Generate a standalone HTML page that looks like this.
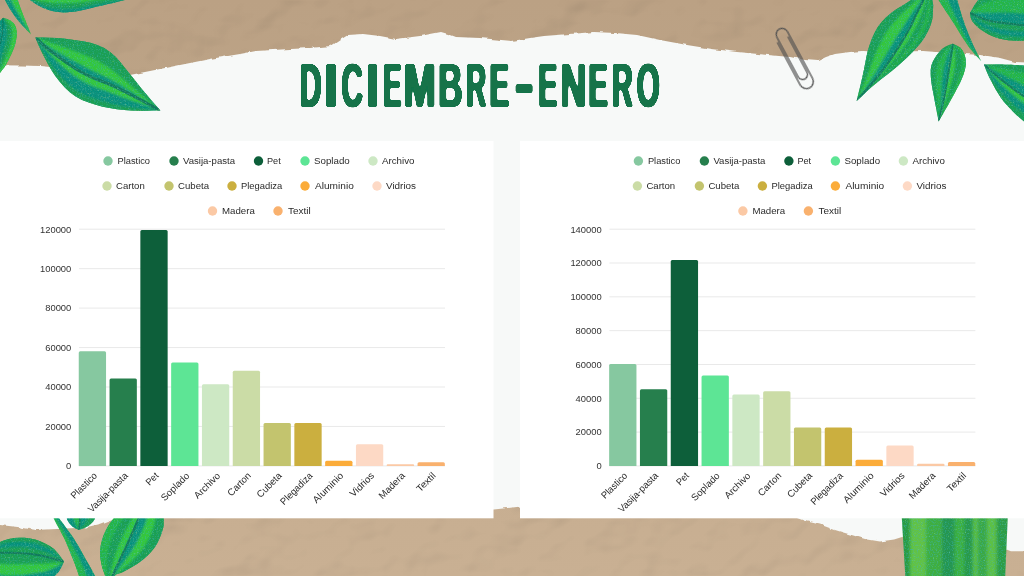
<!DOCTYPE html>
<html lang="es"><head><meta charset="utf-8"><title>Diciembre-Enero</title>
<style>
html,body{margin:0;padding:0;background:#bca388;}
body{width:1024px;height:576px;overflow:hidden;position:relative;}
svg{display:block;position:absolute;left:0;top:0;}
text{font-family:"Liberation Sans","DejaVu Sans",sans-serif;}
.lg{font-size:9.6px;fill:#2b2b2b;}
.ax{font-size:9.4px;fill:#333;}
.ttl{font-family:"Liberation Sans","DejaVu Sans",sans-serif;font-weight:bold;fill:#12734a;}
</style></head><body>
<svg width="1024" height="576" viewBox="0 0 1024 576">
<defs>
<filter id="kraft" x="0" y="0" width="100%" height="100%" color-interpolation-filters="sRGB">
<feTurbulence type="fractalNoise" baseFrequency="0.017 0.021" numOctaves="3" seed="5" result="n"/>
<feDiffuseLighting in="n" surfaceScale="1.3" diffuseConstant="1.155" lighting-color="#ffffff" result="l"><feDistantLight azimuth="235" elevation="60"/></feDiffuseLighting>
<feComposite in="SourceGraphic" in2="l" operator="arithmetic" k1="1" k2="0" k3="0" k4="0"/>
</filter>
<linearGradient id="kg" x1="0" y1="0" x2="0" y2="1"><stop offset="0" stop-color="#bba184"/><stop offset="0.15" stop-color="#bca386"/><stop offset="0.85" stop-color="#c7ae91"/><stop offset="1" stop-color="#c9b093"/></linearGradient>
<filter id="soft2" x="-10%" y="-10%" width="120%" height="120%"><feGaussianBlur stdDeviation="1.6 0.1"/></filter>
<filter id="soft" x="-10%" y="-10%" width="120%" height="120%"><feGaussianBlur stdDeviation="1.1"/></filter>
<filter id="grain" x="0" y="0" width="100%" height="100%">
<feTurbulence type="fractalNoise" baseFrequency="0.75" numOctaves="2" seed="3" result="t"/>
<feColorMatrix in="t" type="matrix" values="0 0 0 0 0.04  0 0 0 0 0.45  0 0 0 0 0.38  1.6 0 0 0 -0.78" result="g"/>
<feComposite in="g" in2="SourceAlpha" operator="in" result="gi"/>
<feColorMatrix in="t" type="matrix" values="0 0 0 0 0.25  0 0 0 0 0.80  0 0 0 0 0.25  0 -1.5 0 0 0.52" result="h"/>
<feComposite in="h" in2="SourceAlpha" operator="in" result="hi"/>
<feMerge><feMergeNode in="SourceGraphic"/><feMergeNode in="gi"/><feMergeNode in="hi"/></feMerge>
</filter>
<filter id="torn" x="-1%" y="-5%" width="102%" height="110%">
<feTurbulence type="fractalNoise" baseFrequency="0.11" numOctaves="2" seed="8" result="t"/>
<feDisplacementMap in="SourceGraphic" in2="t" scale="3.2" xChannelSelector="R" yChannelSelector="G"/>
</filter>
<filter id="fat" x="-2%" y="-10%" width="104%" height="120%"><feMorphology operator="dilate" radius="1.0 0.3" result="d"/><feGaussianBlur in="d" stdDeviation="1.3" result="b"/><feColorMatrix in="b" type="matrix" values="1 0 0 0 0  0 1 0 0 0  0 0 1 0 0  0 0 0 9 -4"/></filter>
</defs>

<rect x="0" y="0" width="1024" height="576" fill="url(#kg)" filter="url(#kraft)"/>
<path d="M-12,65 L20,65.5 L40,66 L60,68 L90,72 L110,75 L130,75 L150,71 L180,65 L210,59 L240,54 L256,51 L290,49 L310,48 L331,46 L340,40 L348,35 L363,34 L380,36 L396,39 L420,36 L441,32 L448,34 L456,37 L480,38 L512,41 L530,38 L544,36 L570,34 L594,32 L615,33 L637,35 L660,40 L687,45 L712,49 L737,52 L768,55 L790,57 L805,60 L818,61 L826,57 L835,54 L850,52 L863,51 L890,52 L923,51 L950,53 L980,55 L1000,58 L1015,62 L1036,63 L1036,551.3 L1011,551.3 L1007.7,550 L990,548 L960,545 L930,541 L902,537 L894,539.4 L880,541.5 L865,539 L850,534.5 L835,530 L820,524.5 L805,521 L797,518 L700,514 L600,510 L521,506.5 L493.8,509.6 L300,514 L112.5,519 L98,524.6 L85,527.5 L56,529 L35,530 L17.6,527 L-12,523.7Z" fill="#f7f9f8" filter="url(#torn)"/>
<g filter="url(#grain)">
<clipPath id="lf1"><path d="M24.0,-4.0 L28.9,-6.9 L33.8,-9.9 L38.7,-12.9 L43.7,-15.7 L48.8,-18.2 L54.2,-20.3 L59.7,-21.9 L65.3,-22.9 L71.0,-23.6 L76.7,-24.0 L82.4,-24.2 L88.1,-24.2 L93.9,-24.0 L99.6,-23.6 L105.3,-22.9 L110.9,-21.7 L116.3,-19.9 L121.4,-17.3 L126.2,-14.3 L130.9,-10.9 L135.4,-7.4 L140.0,-4.0 L140.0,-4.0 L134.6,-2.6 L129.3,-1.2 L123.9,0.2 L118.5,1.5 L113.1,2.9 L107.8,4.1 L102.4,5.4 L97.0,6.6 L91.5,7.9 L86.2,9.2 L80.8,10.5 L75.3,11.5 L69.8,12.1 L64.3,12.4 L58.7,12.1 L53.3,11.2 L47.9,9.8 L42.8,7.8 L37.9,5.2 L33.2,2.2 L28.6,-0.9 L24.0,-4.0Z"/></clipPath>
<path d="M24.0,-4.0 L28.9,-6.9 L33.8,-9.9 L38.7,-12.9 L43.7,-15.7 L48.8,-18.2 L54.2,-20.3 L59.7,-21.9 L65.3,-22.9 L71.0,-23.6 L76.7,-24.0 L82.4,-24.2 L88.1,-24.2 L93.9,-24.0 L99.6,-23.6 L105.3,-22.9 L110.9,-21.7 L116.3,-19.9 L121.4,-17.3 L126.2,-14.3 L130.9,-10.9 L135.4,-7.4 L140.0,-4.0 L140.0,-4.0 L134.6,-2.6 L129.3,-1.2 L123.9,0.2 L118.5,1.5 L113.1,2.9 L107.8,4.1 L102.4,5.4 L97.0,6.6 L91.5,7.9 L86.2,9.2 L80.8,10.5 L75.3,11.5 L69.8,12.1 L64.3,12.4 L58.7,12.1 L53.3,11.2 L47.9,9.8 L42.8,7.8 L37.9,5.2 L33.2,2.2 L28.6,-0.9 L24.0,-4.0Z" fill="#1f9f52"/>
<g clip-path="url(#lf1)"><g filter="url(#soft)">
<path d="M24.0,-4.0 L28.9,-2.5 L33.9,-1.0 L38.8,0.4 L43.9,1.6 L49.1,2.5 L54.5,3.2 L59.8,3.5 L65.2,3.6 L70.6,3.3 L76.0,2.9 L81.4,2.4 L86.7,1.7 L92.1,0.9 L97.4,0.3 L102.7,-0.3 L108.1,-0.8 L113.4,-1.3 L118.7,-1.9 L124.1,-2.4 L129.4,-2.9 L134.7,-3.5 L140.0,-4.0 L140.0,-4.0 L134.7,-4.3 L129.5,-4.6 L124.2,-5.0 L118.9,-5.3 L113.7,-5.5 L108.4,-5.8 L103.1,-5.9 L97.8,-6.0 L92.6,-6.0 L87.3,-5.9 L82.0,-5.8 L76.7,-5.6 L71.5,-5.4 L66.2,-5.2 L60.9,-5.0 L55.6,-4.9 L50.4,-4.7 L45.1,-4.6 L39.8,-4.4 L34.5,-4.3 L29.3,-4.1 L24.0,-4.0Z" fill="#35c63c"/>
<path d="M24.0,-4.0 L28.7,-1.5 L33.4,1.1 L38.2,3.5 L43.2,5.5 L48.4,7.2 L53.7,8.3 L59.1,9.0 L64.6,9.2 L70.1,8.9 L75.6,8.4 L81.0,7.5 L86.4,6.5 L91.7,5.4 L97.1,4.4 L102.5,3.4 L107.9,2.4 L113.2,1.4 L118.6,0.3 L124.0,-0.7 L129.3,-1.8 L134.7,-2.9 L140.0,-4.0 L140.0,-4.0 L134.7,-3.5 L129.4,-2.9 L124.1,-2.4 L118.7,-1.9 L113.4,-1.3 L108.1,-0.8 L102.7,-0.3 L97.4,0.3 L92.1,0.9 L86.7,1.7 L81.4,2.4 L76.0,2.9 L70.6,3.3 L65.2,3.6 L59.8,3.5 L54.5,3.2 L49.1,2.5 L43.9,1.6 L38.8,0.4 L33.9,-1.0 L28.9,-2.5 L24.0,-4.0Z" fill="#1f9f52"/>
<path d="M24.0,-4.0 L28.4,-0.1 L32.8,3.9 L37.4,7.6 L42.2,10.9 L47.3,13.4 L52.7,15.2 L58.2,16.4 L63.8,16.7 L69.4,16.4 L75.0,15.7 L80.5,14.5 L85.9,13.0 L91.3,11.3 L96.7,9.8 L102.2,8.2 L107.6,6.6 L113.0,5.0 L118.4,3.2 L123.8,1.5 L129.2,-0.3 L134.6,-2.2 L140.0,-4.0 L140.0,-4.0 L134.7,-2.9 L129.3,-1.8 L124.0,-0.7 L118.6,0.3 L113.2,1.4 L107.9,2.4 L102.5,3.4 L97.1,4.4 L91.7,5.4 L86.4,6.5 L81.0,7.5 L75.6,8.4 L70.1,8.9 L64.6,9.2 L59.1,9.0 L53.7,8.3 L48.4,7.2 L43.2,5.5 L38.2,3.5 L33.4,1.1 L28.7,-1.5 L24.0,-4.0Z" fill="#11917c"/>
</g>
<path d="M24.0,-4.0 L29.3,-4.1 L34.5,-4.3 L39.8,-4.4 L45.1,-4.6 L50.4,-4.7 L55.6,-4.9 L60.9,-5.0 L66.2,-5.2 L71.5,-5.4 L76.7,-5.6 L82.0,-5.8 L87.3,-5.9 L92.6,-6.0 L97.8,-6.0 L103.1,-5.9 L108.4,-5.8 L113.7,-5.5 L118.9,-5.3 L124.2,-5.0 L129.5,-4.6 L134.7,-4.3 L140.0,-4.0" fill="none" stroke="#137a5c" stroke-width="1.8" stroke-linecap="round"/>
</g>
<clipPath id="lf2"><path d="M-2.0,-20.0 L-1.1,-17.2 L-0.2,-14.4 L0.6,-11.6 L1.5,-8.8 L2.5,-6.0 L3.6,-3.3 L4.7,-0.6 L6.0,2.0 L7.4,4.6 L8.9,7.2 L10.4,9.7 L12.0,12.1 L13.6,14.5 L15.4,16.9 L17.1,19.3 L19.0,21.6 L20.9,23.8 L22.9,25.9 L24.9,28.1 L26.9,30.2 L29.0,32.3 L31.0,34.4 L31.0,34.4 L30.0,32.0 L29.0,29.5 L28.0,27.1 L27.0,24.7 L26.1,22.3 L25.1,19.8 L24.1,17.4 L23.1,15.0 L22.2,12.5 L21.2,10.1 L20.3,7.6 L19.4,5.1 L18.6,2.7 L17.8,0.2 L17.0,-2.3 L16.2,-4.8 L15.5,-7.4 L14.8,-9.9 L14.1,-12.4 L13.4,-14.9 L12.7,-17.5 L12.0,-20.0Z"/></clipPath>
<path d="M-2.0,-20.0 L-1.1,-17.2 L-0.2,-14.4 L0.6,-11.6 L1.5,-8.8 L2.5,-6.0 L3.6,-3.3 L4.7,-0.6 L6.0,2.0 L7.4,4.6 L8.9,7.2 L10.4,9.7 L12.0,12.1 L13.6,14.5 L15.4,16.9 L17.1,19.3 L19.0,21.6 L20.9,23.8 L22.9,25.9 L24.9,28.1 L26.9,30.2 L29.0,32.3 L31.0,34.4 L31.0,34.4 L30.0,32.0 L29.0,29.5 L28.0,27.1 L27.0,24.7 L26.1,22.3 L25.1,19.8 L24.1,17.4 L23.1,15.0 L22.2,12.5 L21.2,10.1 L20.3,7.6 L19.4,5.1 L18.6,2.7 L17.8,0.2 L17.0,-2.3 L16.2,-4.8 L15.5,-7.4 L14.8,-9.9 L14.1,-12.4 L13.4,-14.9 L12.7,-17.5 L12.0,-20.0Z" fill="#27b546"/>
<g clip-path="url(#lf2)"><g filter="url(#soft)">
<path d="M-3.8,-20.0 L-2.8,-17.2 L-1.9,-14.3 L-1.0,-11.5 L-0.0,-8.7 L1.0,-5.9 L2.1,-3.1 L3.3,-0.4 L4.7,2.3 L6.1,4.9 L7.6,7.4 L9.2,10.0 L10.8,12.4 L12.5,14.9 L14.3,17.3 L16.2,19.6 L18.1,21.9 L20.2,24.0 L22.3,26.2 L24.5,28.2 L26.6,30.3 L28.8,32.3 L31.0,34.4 L31.0,34.4 L29.5,32.1 L28.1,29.7 L26.6,27.4 L25.2,25.0 L23.7,22.7 L22.3,20.3 L20.9,18.0 L19.5,15.6 L18.0,13.2 L16.6,10.8 L15.2,8.5 L13.9,6.0 L12.6,3.6 L11.5,1.1 L10.4,-1.5 L9.5,-4.1 L8.7,-6.7 L7.9,-9.4 L7.2,-12.0 L6.4,-14.7 L5.7,-17.3 L5.0,-20.0Z" fill="#11917c"/>
<path d="M13.8,-20.0 L14.4,-17.5 L15.1,-15.0 L15.8,-12.5 L16.5,-10.0 L17.2,-7.5 L17.9,-5.0 L18.6,-2.5 L19.3,-0.1 L20.1,2.4 L20.8,4.9 L21.6,7.4 L22.4,9.9 L23.2,12.3 L24.1,14.8 L24.9,17.3 L25.8,19.7 L26.6,22.2 L27.5,24.6 L28.4,27.1 L29.3,29.5 L30.1,32.0 L31.0,34.4 L31.0,34.4 L29.5,32.1 L28.1,29.7 L26.6,27.4 L25.2,25.0 L23.7,22.7 L22.3,20.3 L20.9,18.0 L19.5,15.6 L18.0,13.2 L16.6,10.8 L15.2,8.5 L13.9,6.0 L12.6,3.6 L11.5,1.1 L10.4,-1.5 L9.5,-4.1 L8.7,-6.7 L7.9,-9.4 L7.2,-12.0 L6.4,-14.7 L5.7,-17.3 L5.0,-20.0Z" fill="#35c63c"/>
</g>
</g>
<clipPath id="lf3"><path d="M-14.0,95.0 L-13.8,91.3 L-13.7,87.6 L-13.6,83.9 L-13.4,80.3 L-13.2,76.6 L-13.0,72.9 L-12.8,69.2 L-12.5,65.5 L-12.2,61.9 L-11.8,58.2 L-11.3,54.6 L-10.7,50.9 L-10.1,47.3 L-9.5,43.7 L-8.7,40.0 L-7.9,36.5 L-6.9,32.9 L-5.7,29.4 L-4.1,26.1 L-2.0,23.1 L0.4,20.4 L3.0,17.7 L3.0,17.7 L7.0,19.1 L10.8,20.8 L13.9,23.6 L15.9,27.3 L16.7,31.4 L16.7,35.7 L16.1,39.8 L15.2,44.0 L13.9,48.0 L12.3,51.9 L10.5,55.7 L8.7,59.5 L6.7,63.2 L4.6,66.9 L2.0,70.2 L-0.4,73.6 L-2.7,77.2 L-5.0,80.7 L-7.2,84.3 L-9.5,87.9 L-11.7,91.4 L-14.0,95.0Z"/></clipPath>
<path d="M-14.0,95.0 L-13.8,91.3 L-13.7,87.6 L-13.6,83.9 L-13.4,80.3 L-13.2,76.6 L-13.0,72.9 L-12.8,69.2 L-12.5,65.5 L-12.2,61.9 L-11.8,58.2 L-11.3,54.6 L-10.7,50.9 L-10.1,47.3 L-9.5,43.7 L-8.7,40.0 L-7.9,36.5 L-6.9,32.9 L-5.7,29.4 L-4.1,26.1 L-2.0,23.1 L0.4,20.4 L3.0,17.7 L3.0,17.7 L7.0,19.1 L10.8,20.8 L13.9,23.6 L15.9,27.3 L16.7,31.4 L16.7,35.7 L16.1,39.8 L15.2,44.0 L13.9,48.0 L12.3,51.9 L10.5,55.7 L8.7,59.5 L6.7,63.2 L4.6,66.9 L2.0,70.2 L-0.4,73.6 L-2.7,77.2 L-5.0,80.7 L-7.2,84.3 L-9.5,87.9 L-11.7,91.4 L-14.0,95.0Z" fill="#1f9f52"/>
<g clip-path="url(#lf3)"><g filter="url(#soft)">
<path d="M-14.0,95.0 L-14.0,91.3 L-14.1,87.5 L-14.2,83.8 L-14.3,80.1 L-14.3,76.3 L-14.3,72.6 L-14.3,68.9 L-14.2,65.1 L-14.0,61.4 L-13.7,57.7 L-13.3,54.0 L-12.8,50.3 L-12.3,46.7 L-11.7,43.0 L-11.0,39.4 L-10.1,35.8 L-9.1,32.2 L-7.8,28.7 L-5.9,25.5 L-3.3,22.6 L-0.2,20.1 L3.0,17.7 L3.0,17.7 L2.9,21.3 L2.9,24.9 L2.7,28.5 L2.4,32.1 L1.9,35.7 L1.2,39.3 L0.4,42.8 L-0.4,46.3 L-1.3,49.8 L-2.2,53.3 L-3.1,56.8 L-4.1,60.3 L-5.0,63.8 L-6.0,67.2 L-7.0,70.7 L-8.0,74.2 L-9.0,77.7 L-10.0,81.1 L-11.0,84.6 L-12.0,88.1 L-13.0,91.5 L-14.0,95.0Z" fill="#11917c"/>
<path d="M-14.0,95.0 L-12.6,91.5 L-11.1,88.0 L-9.7,84.5 L-8.2,81.0 L-6.8,77.5 L-5.3,74.0 L-3.8,70.5 L-2.3,67.1 L-0.9,63.6 L0.4,60.0 L1.7,56.4 L2.9,52.8 L4.0,49.2 L5.1,45.5 L5.9,41.8 L6.6,38.0 L7.1,34.2 L7.1,30.4 L6.6,26.8 L5.7,23.5 L4.3,20.5 L3.0,17.7 L3.0,17.7 L2.9,21.3 L2.9,24.9 L2.7,28.5 L2.4,32.1 L1.9,35.7 L1.2,39.3 L0.4,42.8 L-0.4,46.3 L-1.3,49.8 L-2.2,53.3 L-3.1,56.8 L-4.1,60.3 L-5.0,63.8 L-6.0,67.2 L-7.0,70.7 L-8.0,74.2 L-9.0,77.7 L-10.0,81.1 L-11.0,84.6 L-12.0,88.1 L-13.0,91.5 L-14.0,95.0Z" fill="#11917c"/>
<path d="M-14.0,95.0 L-12.1,91.5 L-10.2,87.9 L-8.4,84.4 L-6.5,80.9 L-4.6,77.3 L-2.7,73.8 L-0.7,70.3 L1.4,67.0 L3.2,63.4 L4.9,59.7 L6.4,56.0 L7.9,52.3 L9.3,48.5 L10.5,44.7 L11.4,40.7 L12.0,36.7 L12.3,32.7 L11.9,28.8 L10.6,25.1 L8.4,22.0 L5.8,19.8 L3.0,17.7 L3.0,17.7 L4.3,20.5 L5.7,23.5 L6.6,26.8 L7.1,30.4 L7.1,34.2 L6.6,38.0 L5.9,41.8 L5.1,45.5 L4.0,49.2 L2.9,52.8 L1.7,56.4 L0.4,60.0 L-0.9,63.6 L-2.3,67.1 L-3.8,70.5 L-5.3,74.0 L-6.8,77.5 L-8.2,81.0 L-9.7,84.5 L-11.1,88.0 L-12.6,91.5 L-14.0,95.0Z" fill="#1f9f52"/>
<path d="M-14.0,95.0 L-11.4,91.4 L-8.9,87.8 L-6.3,84.2 L-3.7,80.6 L-1.1,77.1 L1.5,73.5 L4.2,70.0 L7.3,66.8 L9.7,63.1 L11.9,59.3 L14.0,55.4 L15.9,51.5 L17.7,47.5 L19.1,43.4 L20.1,39.1 L20.6,34.8 L20.4,30.4 L19.3,26.1 L16.7,22.4 L12.8,19.8 L8.0,18.6 L3.0,17.7 L3.0,17.7 L5.8,19.8 L8.4,22.0 L10.6,25.1 L11.9,28.8 L12.3,32.7 L12.0,36.7 L11.4,40.7 L10.5,44.7 L9.3,48.5 L7.9,52.3 L6.4,56.0 L4.9,59.7 L3.2,63.4 L1.4,67.0 L-0.7,70.3 L-2.7,73.8 L-4.6,77.3 L-6.5,80.9 L-8.4,84.4 L-10.2,87.9 L-12.1,91.5 L-14.0,95.0Z" fill="#35c63c"/>
</g>
<path d="M-14.0,95.0 L-13.0,91.5 L-12.0,88.1 L-11.0,84.6 L-10.0,81.1 L-9.0,77.7 L-8.0,74.2 L-7.0,70.7 L-6.0,67.2 L-5.0,63.8 L-4.1,60.3 L-3.1,56.8 L-2.2,53.3 L-1.3,49.8 L-0.4,46.3 L0.4,42.8 L1.2,39.3 L1.9,35.7 L2.4,32.1 L2.7,28.5 L2.9,24.9 L2.9,21.3 L3.0,17.7" fill="none" stroke="#137a5c" stroke-width="1.2" stroke-linecap="round"/>
</g>
<clipPath id="lf4"><path d="M35.4,37.5 L42.4,37.6 L49.4,37.7 L56.5,38.0 L63.4,38.6 L70.4,39.4 L77.4,40.4 L84.3,41.5 L91.2,43.0 L97.8,45.2 L104.2,48.1 L110.0,52.0 L115.3,56.6 L120.0,61.8 L124.4,67.3 L128.8,72.8 L133.3,78.2 L137.6,83.7 L142.0,89.2 L146.5,94.6 L151.1,99.9 L155.7,105.2 L160.4,110.4 L160.4,110.4 L153.2,110.5 L145.9,110.7 L138.7,110.7 L131.4,110.5 L124.2,110.0 L117.0,109.2 L109.8,108.1 L102.7,106.7 L95.7,104.8 L88.8,102.6 L82.1,99.9 L75.7,96.4 L69.9,92.2 L64.6,87.2 L59.8,81.8 L55.3,76.1 L51.4,70.0 L47.8,63.7 L44.4,57.3 L41.1,50.8 L38.1,44.2 L35.4,37.5Z"/></clipPath>
<path d="M35.4,37.5 L42.4,37.6 L49.4,37.7 L56.5,38.0 L63.4,38.6 L70.4,39.4 L77.4,40.4 L84.3,41.5 L91.2,43.0 L97.8,45.2 L104.2,48.1 L110.0,52.0 L115.3,56.6 L120.0,61.8 L124.4,67.3 L128.8,72.8 L133.3,78.2 L137.6,83.7 L142.0,89.2 L146.5,94.6 L151.1,99.9 L155.7,105.2 L160.4,110.4 L160.4,110.4 L153.2,110.5 L145.9,110.7 L138.7,110.7 L131.4,110.5 L124.2,110.0 L117.0,109.2 L109.8,108.1 L102.7,106.7 L95.7,104.8 L88.8,102.6 L82.1,99.9 L75.7,96.4 L69.9,92.2 L64.6,87.2 L59.8,81.8 L55.3,76.1 L51.4,70.0 L47.8,63.7 L44.4,57.3 L41.1,50.8 L38.1,44.2 L35.4,37.5Z" fill="#1f9f52"/>
<g clip-path="url(#lf4)"><g filter="url(#soft)">
<path d="M35.4,37.5 L40.7,41.1 L46.0,44.7 L51.5,48.1 L57.1,51.4 L62.8,54.7 L68.5,58.0 L74.3,61.2 L80.1,64.3 L86.0,67.4 L92.0,70.4 L98.0,73.2 L104.0,76.1 L109.9,79.1 L115.6,82.3 L121.3,85.6 L126.9,89.1 L132.5,92.6 L138.0,96.2 L143.6,99.8 L149.2,103.3 L154.8,106.9 L160.4,110.4 L160.4,110.4 L154.6,107.3 L148.7,104.2 L142.9,101.0 L137.0,97.9 L131.2,94.9 L125.3,91.8 L119.4,88.8 L113.4,86.0 L107.4,83.4 L101.2,81.0 L95.0,78.6 L89.0,75.9 L83.0,73.0 L77.3,69.7 L71.7,66.1 L66.3,62.4 L60.9,58.5 L55.5,54.6 L50.3,50.7 L45.1,46.5 L40.2,42.0 L35.4,37.5Z" fill="#11917c"/>
<path d="M35.4,37.5 L41.4,39.6 L47.5,41.7 L53.7,43.7 L59.9,45.8 L66.1,48.0 L72.4,50.3 L78.6,52.6 L84.9,55.0 L91.2,57.7 L97.3,60.6 L103.3,64.0 L109.0,67.6 L114.3,71.5 L119.5,75.7 L124.6,80.0 L129.7,84.3 L134.7,88.7 L139.8,93.1 L144.9,97.5 L150.0,101.8 L155.2,106.1 L160.4,110.4 L160.4,110.4 L154.8,106.9 L149.2,103.3 L143.6,99.8 L138.0,96.2 L132.5,92.6 L126.9,89.1 L121.3,85.6 L115.6,82.3 L109.9,79.1 L104.0,76.1 L98.0,73.2 L92.0,70.4 L86.0,67.4 L80.1,64.3 L74.3,61.2 L68.5,58.0 L62.8,54.7 L57.1,51.4 L51.5,48.1 L46.0,44.7 L40.7,41.1 L35.4,37.5Z" fill="#35c63c"/>
<path d="M35.4,37.5 L43.0,36.5 L50.5,35.6 L58.0,34.9 L65.4,34.6 L72.8,34.6 L80.2,34.9 L87.4,35.4 L94.6,36.4 L101.5,38.2 L108.0,41.1 L113.8,45.4 L118.9,50.5 L123.2,56.4 L127.2,62.6 L131.2,68.8 L135.2,74.8 L139.3,80.9 L143.3,87.0 L147.4,93.0 L151.7,98.8 L156.0,104.6 L160.4,110.4 L160.4,110.4 L155.2,106.1 L150.0,101.8 L144.9,97.5 L139.8,93.1 L134.7,88.7 L129.7,84.3 L124.6,80.0 L119.5,75.7 L114.3,71.5 L109.0,67.6 L103.3,64.0 L97.3,60.6 L91.2,57.7 L84.9,55.0 L78.6,52.6 L72.4,50.3 L66.1,48.0 L59.9,45.8 L53.7,43.7 L47.5,41.7 L41.4,39.6 L35.4,37.5Z" fill="#1f9f52"/>
<path d="M35.4,37.5 L39.5,42.7 L43.9,47.8 L48.4,52.8 L53.1,57.5 L57.8,62.2 L62.8,66.8 L67.9,71.1 L73.2,75.3 L78.8,79.1 L84.7,82.5 L90.9,85.4 L97.2,87.9 L103.6,90.2 L110.0,92.6 L116.3,95.0 L122.6,97.4 L128.9,99.7 L135.2,102.0 L141.5,104.1 L147.8,106.3 L154.1,108.3 L160.4,110.4 L160.4,110.4 L154.6,107.3 L148.7,104.2 L142.9,101.0 L137.0,97.9 L131.2,94.9 L125.3,91.8 L119.4,88.8 L113.4,86.0 L107.4,83.4 L101.2,81.0 L95.0,78.6 L89.0,75.9 L83.0,73.0 L77.3,69.7 L71.7,66.1 L66.3,62.4 L60.9,58.5 L55.5,54.6 L50.3,50.7 L45.1,46.5 L40.2,42.0 L35.4,37.5Z" fill="#35c63c"/>
<path d="M35.4,37.5 L38.6,43.7 L42.0,49.9 L45.7,55.8 L49.5,61.7 L53.5,67.5 L57.7,73.0 L62.4,78.3 L67.4,83.3 L72.8,87.9 L78.6,91.9 L84.9,95.2 L91.5,97.8 L98.3,100.1 L105.1,102.1 L111.9,103.9 L118.8,105.4 L125.7,106.7 L132.7,107.8 L139.6,108.6 L146.5,109.2 L153.5,109.8 L160.4,110.4 L160.4,110.4 L154.1,108.3 L147.8,106.3 L141.5,104.1 L135.2,102.0 L128.9,99.7 L122.6,97.4 L116.3,95.0 L110.0,92.6 L103.6,90.2 L97.2,87.9 L90.9,85.4 L84.7,82.5 L78.8,79.1 L73.2,75.3 L67.9,71.1 L62.8,66.8 L57.8,62.2 L53.1,57.5 L48.4,52.8 L43.9,47.8 L39.5,42.7 L35.4,37.5Z" fill="#11917c"/>
<path d="M35.4,37.5 L37.6,44.8 L40.1,51.9 L42.9,58.9 L45.8,66.0 L49.0,72.9 L52.6,79.5 L56.8,85.7 L61.4,91.6 L66.6,96.9 L72.4,101.6 L78.8,105.2 L85.7,108.0 L92.8,110.2 L100.0,111.8 L107.4,113.0 L114.9,113.6 L122.4,113.8 L130.0,113.7 L137.6,113.1 L145.2,112.3 L152.8,111.4 L160.4,110.4 L160.4,110.4 L153.5,109.8 L146.5,109.2 L139.6,108.6 L132.7,107.8 L125.7,106.7 L118.8,105.4 L111.9,103.9 L105.1,102.1 L98.3,100.1 L91.5,97.8 L84.9,95.2 L78.6,91.9 L72.8,87.9 L67.4,83.3 L62.4,78.3 L57.7,73.0 L53.5,67.5 L49.5,61.7 L45.7,55.8 L42.0,49.9 L38.6,43.7 L35.4,37.5Z" fill="#1f9f52"/>
</g>
<path d="M35.4,37.5 L40.2,42.0 L45.1,46.5 L50.3,50.7 L55.5,54.6 L60.9,58.5 L66.3,62.4 L71.7,66.1 L77.3,69.7 L83.0,73.0 L89.0,75.9 L95.0,78.6 L101.2,81.0 L107.4,83.4 L113.4,86.0 L119.4,88.8 L125.3,91.8 L131.2,94.9 L137.0,97.9 L142.9,101.0 L148.7,104.2 L154.6,107.3 L160.4,110.4" fill="none" stroke="#137a5c" stroke-width="3.0" stroke-linecap="round"/>
</g>
<clipPath id="lf5"><path d="M927.0,-14.0 L922.3,-9.6 L917.5,-5.2 L912.6,-1.1 L907.4,2.6 L901.8,5.9 L896.3,9.2 L891.2,13.1 L886.2,17.3 L881.7,21.9 L877.8,27.0 L874.7,32.6 L872.0,38.5 L869.8,44.5 L867.8,50.7 L866.4,57.0 L865.2,63.3 L864.0,69.6 L862.6,75.9 L861.2,82.2 L859.7,88.5 L858.1,94.7 L856.6,101.0 L856.6,101.0 L861.5,96.4 L866.4,91.8 L871.3,87.3 L876.5,83.0 L881.7,78.8 L887.0,74.7 L892.3,70.5 L897.4,66.2 L902.4,61.7 L907.3,57.2 L912.1,52.5 L916.7,47.6 L921.0,42.4 L924.8,36.9 L928.0,31.0 L930.7,24.9 L932.4,18.4 L932.9,11.7 L933.2,5.0 L932.0,-1.6 L929.6,-7.8 L927.0,-14.0Z"/></clipPath>
<path d="M927.0,-14.0 L922.3,-9.6 L917.5,-5.2 L912.6,-1.1 L907.4,2.6 L901.8,5.9 L896.3,9.2 L891.2,13.1 L886.2,17.3 L881.7,21.9 L877.8,27.0 L874.7,32.6 L872.0,38.5 L869.8,44.5 L867.8,50.7 L866.4,57.0 L865.2,63.3 L864.0,69.6 L862.6,75.9 L861.2,82.2 L859.7,88.5 L858.1,94.7 L856.6,101.0 L856.6,101.0 L861.5,96.4 L866.4,91.8 L871.3,87.3 L876.5,83.0 L881.7,78.8 L887.0,74.7 L892.3,70.5 L897.4,66.2 L902.4,61.7 L907.3,57.2 L912.1,52.5 L916.7,47.6 L921.0,42.4 L924.8,36.9 L928.0,31.0 L930.7,24.9 L932.4,18.4 L932.9,11.7 L933.2,5.0 L932.0,-1.6 L929.6,-7.8 L927.0,-14.0Z" fill="#1f9f52"/>
<g clip-path="url(#lf5)"><g filter="url(#soft)">
<path d="M927.0,-14.0 L924.7,-8.4 L922.4,-2.8 L919.4,2.5 L915.9,7.5 L912.4,12.5 L909.1,17.5 L905.8,22.7 L902.4,27.9 L899.0,33.1 L895.7,38.3 L892.4,43.7 L889.2,49.0 L886.1,54.4 L883.0,59.8 L879.9,65.1 L876.8,70.4 L873.6,75.6 L870.3,80.7 L866.9,85.8 L863.5,90.9 L860.0,95.9 L856.6,101.0 L856.6,101.0 L860.7,96.3 L864.7,91.7 L868.8,87.0 L872.8,82.3 L876.8,77.6 L880.7,72.7 L884.4,67.8 L888.0,62.8 L891.6,57.7 L895.0,52.5 L898.3,47.3 L901.6,42.1 L904.8,36.8 L907.8,31.4 L910.7,25.9 L913.4,20.3 L916.0,14.7 L918.7,9.2 L921.7,3.7 L924.0,-2.0 L925.6,-8.0 L927.0,-14.0Z" fill="#11917c"/>
<path d="M927.0,-14.0 L923.4,-9.0 L919.8,-4.1 L915.8,0.6 L911.3,4.9 L906.8,9.0 L902.3,13.1 L898.0,17.6 L893.8,22.2 L889.8,27.1 L886.2,32.3 L883.0,37.8 L880.1,43.4 L877.4,49.1 L874.9,54.9 L872.7,60.8 L870.6,66.6 L868.5,72.4 L866.2,78.2 L863.8,83.9 L861.4,89.6 L859.0,95.3 L856.6,101.0 L856.6,101.0 L860.0,95.9 L863.5,90.9 L866.9,85.8 L870.3,80.7 L873.6,75.6 L876.8,70.4 L879.9,65.1 L883.0,59.8 L886.1,54.4 L889.2,49.0 L892.4,43.7 L895.7,38.3 L899.0,33.1 L902.4,27.9 L905.8,22.7 L909.1,17.5 L912.4,12.5 L915.9,7.5 L919.4,2.5 L922.4,-2.8 L924.7,-8.4 L927.0,-14.0Z" fill="#35c63c"/>
<path d="M927.0,-14.0 L921.5,-10.0 L915.9,-6.0 L910.4,-2.3 L904.5,1.0 L898.2,3.6 L892.0,6.4 L886.3,9.9 L880.9,13.8 L875.9,18.1 L871.9,23.3 L868.8,28.9 L866.3,35.0 L864.3,41.2 L862.8,47.7 L861.8,54.2 L861.3,60.9 L860.8,67.6 L860.1,74.3 L859.3,81.0 L858.4,87.7 L857.5,94.3 L856.6,101.0 L856.6,101.0 L859.0,95.3 L861.4,89.6 L863.8,83.9 L866.2,78.2 L868.5,72.4 L870.6,66.6 L872.7,60.8 L874.9,54.9 L877.4,49.1 L880.1,43.4 L883.0,37.8 L886.2,32.3 L889.8,27.1 L893.8,22.2 L898.0,17.6 L902.3,13.1 L906.8,9.0 L911.3,4.9 L915.8,0.6 L919.8,-4.1 L923.4,-9.0 L927.0,-14.0Z" fill="#1f9f52"/>
<path d="M927.0,-14.0 L926.8,-7.9 L926.4,-1.9 L925.1,4.1 L923.0,9.9 L920.9,15.8 L918.6,21.7 L915.9,27.4 L912.9,33.1 L909.7,38.5 L906.2,43.8 L902.5,48.9 L898.7,53.9 L894.8,58.9 L890.8,63.8 L886.8,68.6 L882.6,73.3 L878.3,77.9 L873.9,82.5 L869.6,87.1 L865.2,91.7 L860.9,96.3 L856.6,101.0 L856.6,101.0 L860.7,96.3 L864.7,91.7 L868.8,87.0 L872.8,82.3 L876.8,77.6 L880.7,72.7 L884.4,67.8 L888.0,62.8 L891.6,57.7 L895.0,52.5 L898.3,47.3 L901.6,42.1 L904.8,36.8 L907.8,31.4 L910.7,25.9 L913.4,20.3 L916.0,14.7 L918.7,9.2 L921.7,3.7 L924.0,-2.0 L925.6,-8.0 L927.0,-14.0Z" fill="#35c63c"/>
<path d="M927.0,-14.0 L928.0,-7.9 L928.8,-1.7 L928.6,4.5 L927.2,10.7 L925.8,16.9 L923.7,23.0 L921.1,29.0 L918.0,34.7 L914.5,40.2 L910.7,45.4 L906.6,50.4 L902.4,55.3 L898.1,60.1 L893.7,64.8 L889.1,69.4 L884.5,73.9 L879.8,78.3 L875.0,82.7 L870.3,87.2 L865.7,91.8 L861.2,96.4 L856.6,101.0 L856.6,101.0 L860.9,96.3 L865.2,91.7 L869.6,87.1 L873.9,82.5 L878.3,77.9 L882.6,73.3 L886.8,68.6 L890.8,63.8 L894.8,58.9 L898.7,53.9 L902.5,48.9 L906.2,43.8 L909.7,38.5 L912.9,33.1 L915.9,27.4 L918.6,21.7 L920.9,15.8 L923.0,9.9 L925.1,4.1 L926.4,-1.9 L926.8,-7.9 L927.0,-14.0Z" fill="#1f9f52"/>
<path d="M927.0,-14.0 L928.8,-7.9 L930.4,-1.6 L930.9,4.8 L930.1,11.2 L929.1,17.7 L927.2,24.0 L924.5,30.0 L921.4,35.8 L917.8,41.3 L913.7,46.5 L909.4,51.5 L904.9,56.2 L900.2,60.9 L895.5,65.5 L890.7,70.0 L885.8,74.3 L880.7,78.6 L875.7,82.8 L870.8,87.2 L866.0,91.8 L861.3,96.4 L856.6,101.0 L856.6,101.0 L861.2,96.4 L865.7,91.8 L870.3,87.2 L875.0,82.7 L879.8,78.3 L884.5,73.9 L889.1,69.4 L893.7,64.8 L898.1,60.1 L902.4,55.3 L906.6,50.4 L910.7,45.4 L914.5,40.2 L918.0,34.7 L921.1,29.0 L923.7,23.0 L925.8,16.9 L927.2,10.7 L928.6,4.5 L928.8,-1.7 L928.0,-7.9 L927.0,-14.0Z" fill="#27b546"/>
<path d="M927.0,-14.0 L930.6,-7.8 L934.0,-1.5 L936.1,5.3 L936.4,12.3 L936.5,19.3 L935.0,26.0 L932.3,32.3 L929.0,38.3 L925.1,43.9 L920.5,49.0 L915.6,53.8 L910.4,58.3 L905.1,62.7 L899.8,67.1 L894.3,71.2 L888.6,75.2 L883.0,79.1 L877.4,83.1 L872.0,87.4 L866.8,91.8 L861.7,96.4 L856.6,101.0 L856.6,101.0 L861.3,96.4 L866.0,91.8 L870.8,87.2 L875.7,82.8 L880.7,78.6 L885.8,74.3 L890.7,70.0 L895.5,65.5 L900.2,60.9 L904.9,56.2 L909.4,51.5 L913.7,46.5 L917.8,41.3 L921.4,35.8 L924.5,30.0 L927.2,24.0 L929.1,17.7 L930.1,11.2 L930.9,4.8 L930.4,-1.6 L928.8,-7.9 L927.0,-14.0Z" fill="#1f9f52"/>
</g>
<path d="M927.0,-14.0 L925.6,-8.0 L924.0,-2.0 L921.7,3.7 L918.7,9.2 L916.0,14.7 L913.4,20.3 L910.7,25.9 L907.8,31.4 L904.8,36.8 L901.6,42.1 L898.3,47.3 L895.0,52.5 L891.6,57.7 L888.0,62.8 L884.4,67.8 L880.7,72.7 L876.8,77.6 L872.8,82.3 L868.8,87.0 L864.7,91.7 L860.7,96.3 L856.6,101.0" fill="none" stroke="#137a5c" stroke-width="2.2" stroke-linecap="round"/>
</g>
<clipPath id="lf6"><path d="M952.9,43.8 L949.1,45.1 L945.4,46.7 L942.1,49.0 L939.3,51.9 L936.8,55.1 L934.6,58.4 L932.7,62.0 L931.3,65.8 L930.7,69.8 L930.7,73.8 L930.9,77.8 L931.3,81.8 L931.9,85.8 L932.6,89.8 L933.4,93.7 L934.2,97.7 L934.9,101.7 L935.6,105.6 L936.4,109.6 L937.1,113.6 L937.9,117.5 L938.6,121.5 L938.6,121.5 L940.6,117.9 L942.7,114.4 L944.7,110.8 L946.8,107.3 L948.8,103.7 L950.8,100.1 L952.8,96.5 L954.7,92.9 L956.6,89.3 L958.5,85.7 L960.4,82.0 L962.0,78.3 L963.5,74.4 L964.7,70.5 L965.6,66.5 L966.0,62.4 L965.6,58.4 L964.5,54.4 L962.7,50.7 L960.2,47.6 L956.6,45.5 L952.9,43.8Z"/></clipPath>
<path d="M952.9,43.8 L949.1,45.1 L945.4,46.7 L942.1,49.0 L939.3,51.9 L936.8,55.1 L934.6,58.4 L932.7,62.0 L931.3,65.8 L930.7,69.8 L930.7,73.8 L930.9,77.8 L931.3,81.8 L931.9,85.8 L932.6,89.8 L933.4,93.7 L934.2,97.7 L934.9,101.7 L935.6,105.6 L936.4,109.6 L937.1,113.6 L937.9,117.5 L938.6,121.5 L938.6,121.5 L940.6,117.9 L942.7,114.4 L944.7,110.8 L946.8,107.3 L948.8,103.7 L950.8,100.1 L952.8,96.5 L954.7,92.9 L956.6,89.3 L958.5,85.7 L960.4,82.0 L962.0,78.3 L963.5,74.4 L964.7,70.5 L965.6,66.5 L966.0,62.4 L965.6,58.4 L964.5,54.4 L962.7,50.7 L960.2,47.6 L956.6,45.5 L952.9,43.8Z" fill="#1f9f52"/>
<g clip-path="url(#lf6)"><g filter="url(#soft)">
<path d="M952.9,43.8 L951.4,46.7 L949.9,49.6 L948.6,52.8 L947.3,56.2 L946.2,59.6 L945.2,63.1 L944.2,66.7 L943.4,70.3 L942.8,74.0 L942.4,77.6 L942.0,81.3 L941.7,85.0 L941.5,88.7 L941.3,92.4 L941.0,96.0 L940.8,99.7 L940.4,103.3 L940.1,107.0 L939.7,110.6 L939.4,114.2 L939.0,117.9 L938.6,121.5 L938.6,121.5 L939.5,118.0 L940.3,114.5 L941.2,111.0 L942.0,107.5 L942.8,104.0 L943.6,100.5 L944.3,97.0 L944.9,93.5 L945.6,89.9 L946.2,86.4 L946.8,82.8 L947.4,79.3 L948.0,75.8 L948.5,72.2 L949.1,68.7 L949.7,65.1 L950.3,61.6 L950.8,58.0 L951.3,54.5 L951.9,50.9 L952.4,47.4 L952.9,43.8Z" fill="#11917c"/>
<path d="M952.9,43.8 L950.1,45.8 L947.3,48.0 L944.8,50.6 L942.7,53.7 L940.8,57.0 L939.1,60.4 L937.6,64.0 L936.5,67.7 L935.9,71.6 L935.7,75.4 L935.7,79.3 L935.8,83.2 L936.0,87.1 L936.3,90.9 L936.7,94.7 L937.0,98.6 L937.3,102.4 L937.5,106.2 L937.8,110.0 L938.1,113.9 L938.3,117.7 L938.6,121.5 L938.6,121.5 L939.0,117.9 L939.4,114.2 L939.7,110.6 L940.1,107.0 L940.4,103.3 L940.8,99.7 L941.0,96.0 L941.3,92.4 L941.5,88.7 L941.7,85.0 L942.0,81.3 L942.4,77.6 L942.8,74.0 L943.4,70.3 L944.2,66.7 L945.2,63.1 L946.2,59.6 L947.3,56.2 L948.6,52.8 L949.9,49.6 L951.4,46.7 L952.9,43.8Z" fill="#27b546"/>
<path d="M952.9,43.8 L948.3,44.6 L943.8,45.6 L939.7,47.6 L936.4,50.4 L933.4,53.4 L930.8,56.7 L928.5,60.3 L927.0,64.2 L926.4,68.2 L926.5,72.4 L927.0,76.6 L927.6,80.7 L928.5,84.8 L929.5,88.9 L930.7,92.9 L931.8,97.0 L932.9,101.1 L934.0,105.2 L935.1,109.3 L936.3,113.3 L937.4,117.4 L938.6,121.5 L938.6,121.5 L938.3,117.7 L938.1,113.9 L937.8,110.0 L937.5,106.2 L937.3,102.4 L937.0,98.6 L936.7,94.7 L936.3,90.9 L936.0,87.1 L935.8,83.2 L935.7,79.3 L935.7,75.4 L935.9,71.6 L936.5,67.7 L937.6,64.0 L939.1,60.4 L940.8,57.0 L942.7,53.7 L944.8,50.6 L947.3,48.0 L950.1,45.8 L952.9,43.8Z" fill="#1f9f52"/>
<path d="M952.9,43.8 L953.9,46.7 L954.8,49.7 L955.3,53.2 L955.6,56.8 L955.6,60.4 L955.4,64.2 L954.9,67.9 L954.2,71.6 L953.4,75.3 L952.5,78.9 L951.5,82.5 L950.5,86.1 L949.5,89.7 L948.4,93.3 L947.3,96.8 L946.1,100.4 L944.9,103.9 L943.7,107.4 L942.4,111.0 L941.2,114.5 L939.9,118.0 L938.6,121.5 L938.6,121.5 L939.5,118.0 L940.3,114.5 L941.2,111.0 L942.0,107.5 L942.8,104.0 L943.6,100.5 L944.3,97.0 L944.9,93.5 L945.6,89.9 L946.2,86.4 L946.8,82.8 L947.4,79.3 L948.0,75.8 L948.5,72.2 L949.1,68.7 L949.7,65.1 L950.3,61.6 L950.8,58.0 L951.3,54.5 L951.9,50.9 L952.4,47.4 L952.9,43.8Z" fill="#35c63c"/>
<path d="M952.9,43.8 L955.6,45.9 L958.1,48.4 L959.9,51.7 L961.1,55.3 L961.8,59.2 L961.9,63.1 L961.5,67.0 L960.7,70.9 L959.6,74.8 L958.4,78.5 L957.0,82.2 L955.5,85.8 L953.9,89.5 L952.3,93.1 L950.7,96.7 L949.0,100.2 L947.3,103.8 L945.6,107.3 L943.8,110.9 L942.1,114.4 L940.3,118.0 L938.6,121.5 L938.6,121.5 L939.9,118.0 L941.2,114.5 L942.4,111.0 L943.7,107.4 L944.9,103.9 L946.1,100.4 L947.3,96.8 L948.4,93.3 L949.5,89.7 L950.5,86.1 L951.5,82.5 L952.5,78.9 L953.4,75.3 L954.2,71.6 L954.9,67.9 L955.4,64.2 L955.6,60.4 L955.6,56.8 L955.3,53.2 L954.8,49.7 L953.9,46.7 L952.9,43.8Z" fill="#1f9f52"/>
<path d="M952.9,43.8 L957.7,45.0 L962.2,46.7 L965.6,49.8 L967.9,53.5 L969.5,57.5 L970.1,61.8 L969.8,66.0 L968.8,70.1 L967.4,74.1 L965.7,78.0 L963.8,81.8 L961.6,85.5 L959.4,89.1 L957.1,92.8 L954.9,96.4 L952.6,100.0 L950.3,103.6 L947.9,107.2 L945.6,110.8 L943.3,114.3 L940.9,117.9 L938.6,121.5 L938.6,121.5 L940.3,118.0 L942.1,114.4 L943.8,110.9 L945.6,107.3 L947.3,103.8 L949.0,100.2 L950.7,96.7 L952.3,93.1 L953.9,89.5 L955.5,85.8 L957.0,82.2 L958.4,78.5 L959.6,74.8 L960.7,70.9 L961.5,67.0 L961.9,63.1 L961.8,59.2 L961.1,55.3 L959.9,51.7 L958.1,48.4 L955.6,45.9 L952.9,43.8Z" fill="#27b546"/>
</g>
<path d="M952.9,43.8 L952.4,47.4 L951.9,50.9 L951.3,54.5 L950.8,58.0 L950.3,61.6 L949.7,65.1 L949.1,68.7 L948.5,72.2 L948.0,75.8 L947.4,79.3 L946.8,82.8 L946.2,86.4 L945.6,89.9 L944.9,93.5 L944.3,97.0 L943.6,100.5 L942.8,104.0 L942.0,107.5 L941.2,111.0 L940.3,114.5 L939.5,118.0 L938.6,121.5" fill="none" stroke="#137a5c" stroke-width="1.8" stroke-linecap="round"/>
</g>
<clipPath id="lf7"><path d="M928.0,-18.0 L930.2,-14.2 L932.4,-10.5 L934.6,-6.7 L936.8,-3.0 L939.1,0.7 L941.4,4.4 L943.8,8.0 L946.2,11.7 L948.6,15.3 L951.0,18.9 L953.3,22.6 L955.7,26.3 L957.9,30.0 L960.2,33.7 L962.5,37.4 L964.9,41.1 L967.3,44.7 L969.8,48.2 L972.6,51.6 L975.4,54.9 L978.4,58.1 L981.3,61.3 L981.3,61.3 L979.5,57.9 L977.8,54.4 L976.0,51.0 L974.3,47.5 L972.7,44.1 L971.2,40.5 L969.7,37.0 L968.2,33.4 L966.8,29.8 L965.4,26.2 L964.1,22.6 L962.8,19.0 L961.6,15.3 L960.5,11.6 L959.5,7.9 L958.4,4.2 L957.3,0.5 L956.3,-3.2 L955.2,-6.9 L954.1,-10.6 L953.1,-14.3 L952.0,-18.0Z"/></clipPath>
<path d="M928.0,-18.0 L930.2,-14.2 L932.4,-10.5 L934.6,-6.7 L936.8,-3.0 L939.1,0.7 L941.4,4.4 L943.8,8.0 L946.2,11.7 L948.6,15.3 L951.0,18.9 L953.3,22.6 L955.7,26.3 L957.9,30.0 L960.2,33.7 L962.5,37.4 L964.9,41.1 L967.3,44.7 L969.8,48.2 L972.6,51.6 L975.4,54.9 L978.4,58.1 L981.3,61.3 L981.3,61.3 L979.5,57.9 L977.8,54.4 L976.0,51.0 L974.3,47.5 L972.7,44.1 L971.2,40.5 L969.7,37.0 L968.2,33.4 L966.8,29.8 L965.4,26.2 L964.1,22.6 L962.8,19.0 L961.6,15.3 L960.5,11.6 L959.5,7.9 L958.4,4.2 L957.3,0.5 L956.3,-3.2 L955.2,-6.9 L954.1,-10.6 L953.1,-14.3 L952.0,-18.0Z" fill="#27b546"/>
<g clip-path="url(#lf7)"><g filter="url(#soft)">
<path d="M925.0,-18.0 L927.3,-14.2 L929.6,-10.4 L932.0,-6.7 L934.3,-2.9 L936.8,0.8 L939.3,4.4 L941.8,8.0 L944.4,11.7 L947.0,15.3 L949.6,18.9 L952.1,22.5 L954.5,26.2 L956.9,30.0 L959.3,33.7 L961.7,37.4 L964.1,41.1 L966.7,44.7 L969.3,48.2 L972.2,51.6 L975.2,54.9 L978.2,58.1 L981.3,61.3 L981.3,61.3 L978.9,58.0 L976.5,54.7 L974.1,51.4 L971.9,48.0 L969.7,44.5 L967.7,41.0 L965.8,37.4 L963.9,33.8 L962.1,30.2 L960.3,26.5 L958.5,22.8 L956.7,19.2 L955.0,15.5 L953.3,11.8 L951.6,8.1 L949.9,4.3 L948.3,0.6 L946.6,-3.1 L944.9,-6.8 L943.3,-10.5 L941.6,-14.3 L940.0,-18.0Z" fill="#27b546"/>
<path d="M955.0,-18.0 L955.9,-14.3 L956.8,-10.6 L957.8,-6.9 L958.7,-3.2 L959.6,0.5 L960.5,4.2 L961.4,7.9 L962.4,11.6 L963.3,15.3 L964.3,18.9 L965.5,22.6 L966.7,26.2 L967.9,29.8 L969.3,33.3 L970.6,36.9 L972.0,40.4 L973.5,43.9 L975.0,47.4 L976.5,50.9 L978.1,54.4 L979.7,57.8 L981.3,61.3 L981.3,61.3 L978.9,58.0 L976.5,54.7 L974.1,51.4 L971.9,48.0 L969.7,44.5 L967.7,41.0 L965.8,37.4 L963.9,33.8 L962.1,30.2 L960.3,26.5 L958.5,22.8 L956.7,19.2 L955.0,15.5 L953.3,11.8 L951.6,8.1 L949.9,4.3 L948.3,0.6 L946.6,-3.1 L944.9,-6.8 L943.3,-10.5 L941.6,-14.3 L940.0,-18.0Z" fill="#11917c"/>
</g>
</g>
<clipPath id="lf8"><path d="M970.0,13.0 L972.0,9.4 L974.1,5.8 L976.5,2.4 L978.9,-1.0 L981.8,-4.0 L985.3,-6.1 L989.0,-8.0 L992.8,-9.7 L996.6,-11.2 L1000.6,-12.4 L1004.7,-13.3 L1008.8,-13.9 L1012.9,-14.0 L1017.1,-13.9 L1021.2,-13.6 L1025.3,-13.2 L1029.4,-12.8 L1033.6,-12.2 L1037.7,-11.7 L1041.8,-11.1 L1045.9,-10.5 L1050.0,-10.0 L1050.0,36.0 L1045.9,36.8 L1041.7,37.6 L1037.6,38.4 L1033.5,39.2 L1029.3,39.9 L1025.1,40.4 L1020.9,40.7 L1016.7,40.7 L1012.5,40.6 L1008.3,40.2 L1004.2,39.6 L1000.1,38.7 L996.0,37.5 L992.1,36.0 L988.3,34.2 L984.6,32.1 L981.1,29.8 L977.8,27.2 L974.8,24.3 L972.1,21.1 L970.6,17.2 L970.0,13.0Z"/></clipPath>
<path d="M970.0,13.0 L972.0,9.4 L974.1,5.8 L976.5,2.4 L978.9,-1.0 L981.8,-4.0 L985.3,-6.1 L989.0,-8.0 L992.8,-9.7 L996.6,-11.2 L1000.6,-12.4 L1004.7,-13.3 L1008.8,-13.9 L1012.9,-14.0 L1017.1,-13.9 L1021.2,-13.6 L1025.3,-13.2 L1029.4,-12.8 L1033.6,-12.2 L1037.7,-11.7 L1041.8,-11.1 L1045.9,-10.5 L1050.0,-10.0 L1050.0,36.0 L1045.9,36.8 L1041.7,37.6 L1037.6,38.4 L1033.5,39.2 L1029.3,39.9 L1025.1,40.4 L1020.9,40.7 L1016.7,40.7 L1012.5,40.6 L1008.3,40.2 L1004.2,39.6 L1000.1,38.7 L996.0,37.5 L992.1,36.0 L988.3,34.2 L984.6,32.1 L981.1,29.8 L977.8,27.2 L974.8,24.3 L972.1,21.1 L970.6,17.2 L970.0,13.0Z" fill="#1f9f52"/>
<g clip-path="url(#lf8)"><g filter="url(#soft)">
<path d="M970.0,13.0 L973.0,13.0 L976.0,13.0 L979.1,13.0 L982.2,13.0 L985.6,12.9 L989.1,12.8 L992.8,12.8 L996.5,12.7 L1000.2,12.6 L1004.0,12.6 L1007.8,12.6 L1011.6,12.7 L1015.5,13.0 L1019.3,13.2 L1023.1,13.6 L1027.0,13.9 L1030.8,14.1 L1034.7,14.4 L1038.5,14.6 L1042.3,14.8 L1046.2,15.0 L1050.0,15.2 L1050.0,26.0 L1046.3,25.9 L1042.6,25.9 L1038.8,25.9 L1035.1,25.8 L1031.4,25.7 L1027.7,25.5 L1024.0,25.2 L1020.3,24.9 L1016.6,24.5 L1012.9,24.1 L1009.2,23.7 L1005.5,23.3 L1001.8,22.8 L998.1,22.3 L994.4,21.7 L990.8,21.0 L987.2,20.1 L983.6,18.9 L980.2,17.6 L976.8,16.1 L973.4,14.5 L970.0,13.0Z" fill="#11917c"/>
<path d="M970.0,13.0 L972.4,10.9 L974.9,8.9 L977.6,7.0 L980.3,5.0 L983.4,3.3 L986.9,2.0 L990.6,0.9 L994.4,-0.1 L998.2,-1.0 L1002.1,-1.7 L1006.0,-2.2 L1010.0,-2.5 L1014.0,-2.5 L1018.0,-2.3 L1022.0,-2.0 L1026.0,-1.6 L1030.0,-1.2 L1034.0,-0.8 L1038.0,-0.4 L1042.0,0.0 L1046.0,0.4 L1050.0,0.8 L1050.0,15.2 L1046.2,15.0 L1042.3,14.8 L1038.5,14.6 L1034.7,14.4 L1030.8,14.1 L1027.0,13.9 L1023.1,13.6 L1019.3,13.2 L1015.5,13.0 L1011.6,12.7 L1007.8,12.6 L1004.0,12.6 L1000.2,12.6 L996.5,12.7 L992.8,12.8 L989.1,12.8 L985.6,12.9 L982.2,13.0 L979.1,13.0 L976.0,13.0 L973.0,13.0 L970.0,13.0Z" fill="#27b546"/>
<path d="M970.0,13.0 L971.7,8.1 L973.5,3.2 L975.6,-1.4 L977.7,-6.0 L980.4,-10.0 L983.9,-12.9 L987.6,-15.4 L991.4,-17.7 L995.4,-19.7 L999.4,-21.3 L1003.5,-22.6 L1007.7,-23.4 L1012.0,-23.7 L1016.2,-23.6 L1020.5,-23.3 L1024.7,-22.9 L1029.0,-22.4 L1033.2,-21.7 L1037.4,-21.1 L1041.6,-20.4 L1045.8,-19.6 L1050.0,-19.0 L1050.0,0.8 L1046.0,0.4 L1042.0,0.0 L1038.0,-0.4 L1034.0,-0.8 L1030.0,-1.2 L1026.0,-1.6 L1022.0,-2.0 L1018.0,-2.3 L1014.0,-2.5 L1010.0,-2.5 L1006.0,-2.2 L1002.1,-1.7 L998.2,-1.0 L994.4,-0.1 L990.6,0.9 L986.9,2.0 L983.4,3.3 L980.3,5.0 L977.6,7.0 L974.9,8.9 L972.4,10.9 L970.0,13.0Z" fill="#1f9f52"/>
<path d="M970.0,13.0 L972.3,15.6 L974.9,18.1 L978.0,20.3 L981.3,22.2 L984.8,23.9 L988.3,25.4 L992.0,26.7 L995.7,27.8 L999.5,28.7 L1003.3,29.4 L1007.2,30.1 L1011.1,30.6 L1015.0,30.9 L1018.9,31.2 L1022.8,31.4 L1026.7,31.4 L1030.6,31.3 L1034.5,31.2 L1038.3,30.9 L1042.2,30.6 L1046.1,30.3 L1050.0,30.0 L1050.0,26.0 L1046.3,25.9 L1042.6,25.9 L1038.8,25.9 L1035.1,25.8 L1031.4,25.7 L1027.7,25.5 L1024.0,25.2 L1020.3,24.9 L1016.6,24.5 L1012.9,24.1 L1009.2,23.7 L1005.5,23.3 L1001.8,22.8 L998.1,22.3 L994.4,21.7 L990.8,21.0 L987.2,20.1 L983.6,18.9 L980.2,17.6 L976.8,16.1 L973.4,14.5 L970.0,13.0Z" fill="#1f9f52"/>
<path d="M970.0,13.0 L971.3,16.5 L973.2,19.8 L976.1,22.6 L979.3,25.1 L982.6,27.3 L986.2,29.3 L989.8,31.1 L993.6,32.5 L997.5,33.8 L1001.4,34.8 L1005.4,35.6 L1009.5,36.2 L1013.5,36.6 L1017.6,36.8 L1021.7,36.8 L1025.8,36.7 L1029.8,36.3 L1033.9,35.8 L1037.9,35.3 L1041.9,34.7 L1046.0,34.1 L1050.0,33.5 L1050.0,30.0 L1046.1,30.3 L1042.2,30.6 L1038.3,30.9 L1034.5,31.2 L1030.6,31.3 L1026.7,31.4 L1022.8,31.4 L1018.9,31.2 L1015.0,30.9 L1011.1,30.6 L1007.2,30.1 L1003.3,29.4 L999.5,28.7 L995.7,27.8 L992.0,26.7 L988.3,25.4 L984.8,23.9 L981.3,22.2 L978.0,20.3 L974.9,18.1 L972.3,15.6 L970.0,13.0Z" fill="#11917c"/>
<path d="M970.0,13.0 L969.9,17.8 L970.9,22.3 L973.4,26.0 L976.4,29.2 L979.6,32.2 L983.1,34.9 L986.7,37.3 L990.6,39.4 L994.6,41.1 L998.7,42.5 L1002.9,43.5 L1007.2,44.2 L1011.5,44.6 L1015.8,44.7 L1020.2,44.5 L1024.5,44.1 L1028.8,43.4 L1033.1,42.6 L1037.3,41.6 L1041.5,40.6 L1045.8,39.5 L1050.0,38.5 L1050.0,33.5 L1046.0,34.1 L1041.9,34.7 L1037.9,35.3 L1033.9,35.8 L1029.8,36.3 L1025.8,36.7 L1021.7,36.8 L1017.6,36.8 L1013.5,36.6 L1009.5,36.2 L1005.4,35.6 L1001.4,34.8 L997.5,33.8 L993.6,32.5 L989.8,31.1 L986.2,29.3 L982.6,27.3 L979.3,25.1 L976.1,22.6 L973.2,19.8 L971.3,16.5 L970.0,13.0Z" fill="#1f9f52"/>
</g>
<path d="M970.0,13.0 L973.4,14.5 L976.8,16.1 L980.2,17.6 L983.6,18.9 L987.2,20.1 L990.8,21.0 L994.4,21.7 L998.1,22.3 L1001.8,22.8 L1005.5,23.3 L1009.2,23.7 L1012.9,24.1 L1016.6,24.5 L1020.3,24.9 L1024.0,25.2 L1027.7,25.5 L1031.4,25.7 L1035.1,25.8 L1038.8,25.9 L1042.6,25.9 L1046.3,25.9 L1050.0,26.0" fill="none" stroke="#137a5c" stroke-width="2.0" stroke-linecap="round"/>
</g>
<clipPath id="lf9"><path d="M984.0,64.6 L987.0,64.6 L990.0,64.5 L993.1,64.5 L996.1,64.5 L999.1,64.5 L1002.1,64.6 L1005.1,64.7 L1008.1,64.7 L1011.2,64.8 L1014.2,64.9 L1017.2,65.1 L1020.2,65.3 L1023.2,65.6 L1026.2,66.0 L1029.2,66.4 L1032.2,66.9 L1035.1,67.4 L1038.1,67.9 L1041.1,68.4 L1044.1,68.9 L1047.0,69.5 L1050.0,70.0 L1050.0,140.0 L1046.2,137.4 L1042.3,134.8 L1038.4,132.2 L1034.6,129.5 L1030.8,126.8 L1027.1,124.0 L1023.5,121.1 L1020.0,118.0 L1016.5,114.9 L1013.2,111.7 L1009.9,108.3 L1006.8,104.9 L1003.7,101.4 L1000.9,97.7 L998.4,93.8 L995.9,89.8 L993.7,85.7 L991.5,81.6 L989.3,77.5 L987.4,73.3 L985.6,69.0 L984.0,64.6Z"/></clipPath>
<path d="M984.0,64.6 L987.0,64.6 L990.0,64.5 L993.1,64.5 L996.1,64.5 L999.1,64.5 L1002.1,64.6 L1005.1,64.7 L1008.1,64.7 L1011.2,64.8 L1014.2,64.9 L1017.2,65.1 L1020.2,65.3 L1023.2,65.6 L1026.2,66.0 L1029.2,66.4 L1032.2,66.9 L1035.1,67.4 L1038.1,67.9 L1041.1,68.4 L1044.1,68.9 L1047.0,69.5 L1050.0,70.0 L1050.0,140.0 L1046.2,137.4 L1042.3,134.8 L1038.4,132.2 L1034.6,129.5 L1030.8,126.8 L1027.1,124.0 L1023.5,121.1 L1020.0,118.0 L1016.5,114.9 L1013.2,111.7 L1009.9,108.3 L1006.8,104.9 L1003.7,101.4 L1000.9,97.7 L998.4,93.8 L995.9,89.8 L993.7,85.7 L991.5,81.6 L989.3,77.5 L987.4,73.3 L985.6,69.0 L984.0,64.6Z" fill="#1f9f52"/>
<g clip-path="url(#lf9)"><g filter="url(#soft)">
<path d="M984.0,64.6 L986.9,66.2 L989.7,67.8 L992.6,69.4 L995.4,70.9 L998.3,72.5 L1001.2,74.1 L1004.2,75.6 L1007.1,77.1 L1010.1,78.6 L1013.1,80.1 L1016.1,81.6 L1019.1,83.0 L1022.1,84.5 L1025.2,86.0 L1028.3,87.4 L1031.3,88.8 L1034.4,90.3 L1037.5,91.7 L1040.7,93.1 L1043.8,94.5 L1046.9,95.9 L1050.0,97.3 L1050.0,112.0 L1046.8,110.1 L1043.6,108.2 L1040.4,106.4 L1037.2,104.5 L1034.1,102.6 L1030.9,100.7 L1027.8,98.7 L1024.6,96.7 L1021.5,94.7 L1018.5,92.6 L1015.5,90.4 L1012.5,88.3 L1009.5,86.0 L1006.6,83.8 L1003.6,81.5 L1000.8,79.2 L997.9,76.8 L995.1,74.4 L992.3,72.0 L989.5,69.5 L986.8,67.0 L984.0,64.6Z" fill="#11917c"/>
<path d="M984.0,64.6 L987.0,65.2 L989.9,65.8 L992.9,66.4 L995.8,67.0 L998.8,67.6 L1001.8,68.2 L1004.8,68.9 L1007.7,69.5 L1010.7,70.1 L1013.7,70.8 L1016.8,71.4 L1019.8,72.1 L1022.8,72.9 L1025.8,73.7 L1028.8,74.5 L1031.8,75.3 L1034.9,76.2 L1037.9,77.0 L1040.9,77.9 L1043.9,78.8 L1047.0,79.6 L1050.0,80.5 L1050.0,97.3 L1046.9,95.9 L1043.8,94.5 L1040.7,93.1 L1037.5,91.7 L1034.4,90.3 L1031.3,88.8 L1028.3,87.4 L1025.2,86.0 L1022.1,84.5 L1019.1,83.0 L1016.1,81.6 L1013.1,80.1 L1010.1,78.6 L1007.1,77.1 L1004.2,75.6 L1001.2,74.1 L998.3,72.5 L995.4,70.9 L992.6,69.4 L989.7,67.8 L986.9,66.2 L984.0,64.6Z" fill="#27b546"/>
<path d="M984.0,64.6 L987.1,64.0 L990.2,63.3 L993.2,62.7 L996.3,62.1 L999.4,61.5 L1002.4,60.9 L1005.5,60.4 L1008.5,60.0 L1011.6,59.5 L1014.6,59.1 L1017.6,58.8 L1020.6,58.5 L1023.6,58.4 L1026.6,58.3 L1029.5,58.3 L1032.5,58.4 L1035.4,58.6 L1038.3,58.7 L1041.3,58.9 L1044.2,59.1 L1047.1,59.3 L1050.0,59.5 L1050.0,80.5 L1047.0,79.6 L1043.9,78.8 L1040.9,77.9 L1037.9,77.0 L1034.9,76.2 L1031.8,75.3 L1028.8,74.5 L1025.8,73.7 L1022.8,72.9 L1019.8,72.1 L1016.8,71.4 L1013.7,70.8 L1010.7,70.1 L1007.7,69.5 L1004.8,68.9 L1001.8,68.2 L998.8,67.6 L995.8,67.0 L992.9,66.4 L989.9,65.8 L987.0,65.2 L984.0,64.6Z" fill="#1f9f52"/>
<path d="M984.0,64.6 L986.4,67.6 L988.9,70.6 L991.4,73.6 L994.0,76.6 L996.6,79.5 L999.3,82.4 L1002.1,85.2 L1004.9,87.9 L1007.8,90.6 L1010.8,93.3 L1013.8,95.8 L1016.9,98.3 L1020.0,100.7 L1023.2,103.1 L1026.5,105.4 L1029.8,107.7 L1033.1,109.8 L1036.5,112.0 L1039.8,114.1 L1043.2,116.2 L1046.6,118.3 L1050.0,120.4 L1050.0,112.0 L1046.8,110.1 L1043.6,108.2 L1040.4,106.4 L1037.2,104.5 L1034.1,102.6 L1030.9,100.7 L1027.8,98.7 L1024.6,96.7 L1021.5,94.7 L1018.5,92.6 L1015.5,90.4 L1012.5,88.3 L1009.5,86.0 L1006.6,83.8 L1003.6,81.5 L1000.8,79.2 L997.9,76.8 L995.1,74.4 L992.3,72.0 L989.5,69.5 L986.8,67.0 L984.0,64.6Z" fill="#35c63c"/>
<path d="M984.0,64.6 L986.0,68.4 L988.0,72.1 L990.2,75.8 L992.6,79.5 L995.0,83.1 L997.4,86.6 L999.9,90.1 L1002.6,93.5 L1005.5,96.8 L1008.5,99.9 L1011.6,103.0 L1014.8,105.9 L1018.0,108.8 L1021.4,111.6 L1024.8,114.4 L1028.2,117.0 L1031.8,119.5 L1035.4,122.0 L1039.0,124.4 L1042.7,126.8 L1046.4,129.2 L1050.0,131.6 L1050.0,120.4 L1046.6,118.3 L1043.2,116.2 L1039.8,114.1 L1036.5,112.0 L1033.1,109.8 L1029.8,107.7 L1026.5,105.4 L1023.2,103.1 L1020.0,100.7 L1016.9,98.3 L1013.8,95.8 L1010.8,93.3 L1007.8,90.6 L1004.9,87.9 L1002.1,85.2 L999.3,82.4 L996.6,79.5 L994.0,76.6 L991.4,73.6 L988.9,70.6 L986.4,67.6 L984.0,64.6Z" fill="#11917c"/>
<path d="M984.0,64.6 L985.4,69.4 L986.8,74.2 L988.6,78.9 L990.6,83.4 L992.6,88.0 L994.7,92.5 L997.0,96.9 L999.5,101.1 L1002.3,105.2 L1005.3,109.1 L1008.5,112.8 L1011.8,116.4 L1015.3,119.9 L1018.8,123.3 L1022.4,126.7 L1026.2,129.8 L1030.0,132.8 L1034.0,135.8 L1038.0,138.6 L1042.0,141.4 L1046.0,144.2 L1050.0,147.0 L1050.0,131.6 L1046.4,129.2 L1042.7,126.8 L1039.0,124.4 L1035.4,122.0 L1031.8,119.5 L1028.2,117.0 L1024.8,114.4 L1021.4,111.6 L1018.0,108.8 L1014.8,105.9 L1011.6,103.0 L1008.5,99.9 L1005.5,96.8 L1002.6,93.5 L999.9,90.1 L997.4,86.6 L995.0,83.1 L992.6,79.5 L990.2,75.8 L988.0,72.1 L986.0,68.4 L984.0,64.6Z" fill="#1f9f52"/>
</g>
<path d="M984.0,64.6 L986.8,67.0 L989.5,69.5 L992.3,72.0 L995.1,74.4 L997.9,76.8 L1000.8,79.2 L1003.6,81.5 L1006.6,83.8 L1009.5,86.0 L1012.5,88.3 L1015.5,90.4 L1018.5,92.6 L1021.5,94.7 L1024.6,96.7 L1027.8,98.7 L1030.9,100.7 L1034.1,102.6 L1037.2,104.5 L1040.4,106.4 L1043.6,108.2 L1046.8,110.1 L1050.0,112.0" fill="none" stroke="#137a5c" stroke-width="2.0" stroke-linecap="round"/>
</g>
<clipPath id="lf10"><path d="M-40.0,560.0 L-35.2,557.8 L-30.3,555.5 L-25.5,553.3 L-20.7,551.1 L-15.8,548.9 L-11.0,546.7 L-6.1,544.5 L-1.2,542.5 L3.8,540.6 L8.8,539.0 L14.1,538.1 L19.4,537.7 L24.7,537.7 L30.0,538.4 L35.1,539.5 L40.2,541.3 L45.0,543.4 L49.7,546.0 L54.0,549.1 L57.6,553.0 L60.9,557.2 L64.0,561.5 L64.0,561.5 L61.6,566.7 L58.7,571.7 L54.8,575.8 L50.5,579.6 L45.8,582.8 L40.5,584.8 L35.0,586.4 L29.5,588.0 L23.9,589.4 L18.3,590.5 L12.6,591.1 L6.9,591.1 L1.3,590.3 L-4.1,588.2 L-9.0,585.4 L-13.8,582.2 L-18.3,578.7 L-22.8,575.1 L-27.1,571.3 L-31.4,567.5 L-35.6,563.7 L-40.0,560.0Z"/></clipPath>
<path d="M-40.0,560.0 L-35.2,557.8 L-30.3,555.5 L-25.5,553.3 L-20.7,551.1 L-15.8,548.9 L-11.0,546.7 L-6.1,544.5 L-1.2,542.5 L3.8,540.6 L8.8,539.0 L14.1,538.1 L19.4,537.7 L24.7,537.7 L30.0,538.4 L35.1,539.5 L40.2,541.3 L45.0,543.4 L49.7,546.0 L54.0,549.1 L57.6,553.0 L60.9,557.2 L64.0,561.5 L64.0,561.5 L61.6,566.7 L58.7,571.7 L54.8,575.8 L50.5,579.6 L45.8,582.8 L40.5,584.8 L35.0,586.4 L29.5,588.0 L23.9,589.4 L18.3,590.5 L12.6,591.1 L6.9,591.1 L1.3,590.3 L-4.1,588.2 L-9.0,585.4 L-13.8,582.2 L-18.3,578.7 L-22.8,575.1 L-27.1,571.3 L-31.4,567.5 L-35.6,563.7 L-40.0,560.0Z" fill="#1f9f52"/>
<g clip-path="url(#lf10)"><g filter="url(#soft)">
<path d="M-40.0,557.6 L-35.2,556.4 L-30.4,555.3 L-25.7,554.1 L-20.9,552.9 L-16.1,551.8 L-11.3,550.7 L-6.5,549.6 L-1.6,548.7 L3.2,547.8 L8.1,547.2 L13.1,546.9 L18.0,546.8 L23.0,547.0 L28.0,547.5 L32.9,548.3 L37.8,549.3 L42.5,550.7 L47.2,552.3 L51.7,554.3 L55.9,556.6 L60.0,559.0 L64.0,561.5 L64.0,561.5 L59.4,560.2 L54.8,559.0 L50.2,557.7 L45.5,556.6 L40.9,555.5 L36.2,554.7 L31.4,554.1 L26.7,553.6 L21.9,553.2 L17.2,552.9 L12.4,552.7 L7.6,552.7 L2.8,552.7 L-1.9,552.8 L-6.7,553.0 L-11.5,553.3 L-16.2,553.7 L-21.0,554.1 L-25.7,554.6 L-30.5,555.1 L-35.2,555.5 L-40.0,556.0Z" fill="#1f9f52"/>
<path d="M-40.0,559.0 L-35.2,557.2 L-30.4,555.4 L-25.6,553.6 L-20.8,551.8 L-15.9,550.1 L-11.1,548.3 L-6.3,546.7 L-1.4,545.1 L3.5,543.6 L8.5,542.4 L13.6,541.7 L18.8,541.5 L24.0,541.6 L29.2,542.2 L34.2,543.2 L39.2,544.6 L44.0,546.4 L48.7,548.6 L53.0,551.3 L56.9,554.5 L60.5,558.0 L64.0,561.5 L64.0,561.5 L60.0,559.0 L55.9,556.6 L51.7,554.3 L47.2,552.3 L42.5,550.7 L37.8,549.3 L32.9,548.3 L28.0,547.5 L23.0,547.0 L18.0,546.8 L13.1,546.9 L8.1,547.2 L3.2,547.8 L-1.6,548.7 L-6.5,549.6 L-11.3,550.7 L-16.1,551.8 L-20.9,552.9 L-25.7,554.1 L-30.4,555.3 L-35.2,556.4 L-40.0,557.6Z" fill="#11917c"/>
<path d="M-40.0,561.0 L-35.1,558.3 L-30.3,555.7 L-25.5,553.0 L-20.6,550.3 L-15.7,547.7 L-10.9,545.0 L-6.0,542.4 L-1.0,539.9 L4.0,537.6 L9.1,535.6 L14.5,534.4 L19.9,533.9 L25.4,533.9 L30.8,534.5 L36.1,535.9 L41.2,537.9 L46.1,540.4 L50.7,543.3 L54.9,547.0 L58.3,551.5 L61.2,556.4 L64.0,561.5 L64.0,561.5 L60.5,558.0 L56.9,554.5 L53.0,551.3 L48.7,548.6 L44.0,546.4 L39.2,544.6 L34.2,543.2 L29.2,542.2 L24.0,541.6 L18.8,541.5 L13.6,541.7 L8.5,542.4 L3.5,543.6 L-1.4,545.1 L-6.3,546.7 L-11.1,548.3 L-15.9,550.1 L-20.8,551.8 L-25.6,553.6 L-30.4,555.4 L-35.2,557.2 L-40.0,559.0Z" fill="#1f9f52"/>
<path d="M-40.0,557.2 L-35.4,558.0 L-30.8,558.8 L-26.1,559.6 L-21.5,560.4 L-16.9,561.2 L-12.2,562.0 L-7.4,562.7 L-2.6,563.4 L2.4,563.9 L7.4,564.2 L12.5,564.3 L17.5,564.2 L22.5,564.0 L27.5,563.9 L32.5,563.8 L37.5,563.7 L42.4,563.7 L47.0,563.5 L51.6,563.1 L56.0,562.8 L60.1,562.2 L64.0,561.5 L64.0,561.5 L59.4,560.2 L54.8,559.0 L50.2,557.7 L45.5,556.6 L40.9,555.5 L36.2,554.7 L31.4,554.1 L26.7,553.6 L21.9,553.2 L17.2,552.9 L12.4,552.7 L7.6,552.7 L2.8,552.7 L-1.9,552.8 L-6.7,553.0 L-11.5,553.3 L-16.2,553.7 L-21.0,554.1 L-25.7,554.6 L-30.5,555.1 L-35.2,555.5 L-40.0,556.0Z" fill="#1f9f52"/>
<path d="M-40.0,558.4 L-35.5,560.4 L-31.0,562.5 L-26.5,564.6 L-22.1,566.7 L-17.5,568.7 L-12.9,570.6 L-8.1,572.4 L-3.2,574.1 L1.9,575.2 L7.2,575.8 L12.5,575.8 L17.8,575.5 L23.1,574.9 L28.4,574.2 L33.6,573.5 L38.8,572.8 L43.9,571.9 L48.5,570.4 L52.9,568.5 L57.2,566.6 L60.7,564.1 L64.0,561.5 L64.0,561.5 L60.1,562.2 L56.0,562.8 L51.6,563.1 L47.0,563.5 L42.4,563.7 L37.5,563.7 L32.5,563.8 L27.5,563.9 L22.5,564.0 L17.5,564.2 L12.5,564.3 L7.4,564.2 L2.4,563.9 L-2.6,563.4 L-7.4,562.7 L-12.2,562.0 L-16.9,561.2 L-21.5,560.4 L-26.1,559.6 L-30.8,558.8 L-35.4,558.0 L-40.0,557.2Z" fill="#35c63c"/>
<path d="M-40.0,561.0 L-35.7,565.7 L-31.6,570.6 L-27.4,575.5 L-23.2,580.3 L-18.9,585.0 L-14.3,589.4 L-9.6,593.5 L-4.6,597.1 L0.9,599.7 L6.7,600.8 L12.7,600.7 L18.6,599.9 L24.4,598.4 L30.2,596.6 L35.9,594.5 L41.6,592.4 L47.1,589.7 L51.8,585.4 L56.0,580.3 L59.7,574.8 L62.2,568.3 L64.0,561.5 L64.0,561.5 L60.7,564.1 L57.2,566.6 L52.9,568.5 L48.5,570.4 L43.9,571.9 L38.8,572.8 L33.6,573.5 L28.4,574.2 L23.1,574.9 L17.8,575.5 L12.5,575.8 L7.2,575.8 L1.9,575.2 L-3.2,574.1 L-8.1,572.4 L-12.9,570.6 L-17.5,568.7 L-22.1,566.7 L-26.5,564.6 L-31.0,562.5 L-35.5,560.4 L-40.0,558.4Z" fill="#11917c"/>
</g>
<path d="M-40.0,556.0 L-35.2,555.5 L-30.5,555.1 L-25.7,554.6 L-21.0,554.1 L-16.2,553.7 L-11.5,553.3 L-6.7,553.0 L-1.9,552.8 L2.8,552.7 L7.6,552.7 L12.4,552.7 L17.2,552.9 L21.9,553.2 L26.7,553.6 L31.4,554.1 L36.2,554.7 L40.9,555.5 L45.5,556.6 L50.2,557.7 L54.8,559.0 L59.4,560.2 L64.0,561.5" fill="none" stroke="#137a5c" stroke-width="2.0" stroke-linecap="round"/>
</g>
<clipPath id="lf11"><path d="M80.0,500.0 L78.5,501.1 L76.9,502.2 L75.4,503.2 L73.9,504.4 L72.4,505.5 L71.0,506.8 L69.8,508.3 L68.8,509.9 L68.0,511.5 L67.4,513.3 L66.9,515.1 L66.8,517.0 L67.0,518.9 L67.7,520.6 L68.7,522.2 L69.8,523.7 L71.1,525.1 L72.4,526.4 L74.0,527.5 L75.6,528.4 L77.3,529.2 L79.0,530.0 L79.0,530.0 L81.0,529.3 L82.9,528.6 L84.8,527.8 L86.7,526.8 L88.4,525.7 L90.1,524.4 L91.6,523.0 L93.1,521.5 L94.3,519.7 L95.0,517.8 L95.2,515.7 L94.9,513.7 L94.2,511.7 L93.3,509.8 L92.1,508.1 L90.6,506.7 L88.9,505.4 L87.2,504.2 L85.4,503.1 L83.6,502.1 L81.8,501.1 L80.0,500.0Z"/></clipPath>
<path d="M80.0,500.0 L78.5,501.1 L76.9,502.2 L75.4,503.2 L73.9,504.4 L72.4,505.5 L71.0,506.8 L69.8,508.3 L68.8,509.9 L68.0,511.5 L67.4,513.3 L66.9,515.1 L66.8,517.0 L67.0,518.9 L67.7,520.6 L68.7,522.2 L69.8,523.7 L71.1,525.1 L72.4,526.4 L74.0,527.5 L75.6,528.4 L77.3,529.2 L79.0,530.0 L79.0,530.0 L81.0,529.3 L82.9,528.6 L84.8,527.8 L86.7,526.8 L88.4,525.7 L90.1,524.4 L91.6,523.0 L93.1,521.5 L94.3,519.7 L95.0,517.8 L95.2,515.7 L94.9,513.7 L94.2,511.7 L93.3,509.8 L92.1,508.1 L90.6,506.7 L88.9,505.4 L87.2,504.2 L85.4,503.1 L83.6,502.1 L81.8,501.1 L80.0,500.0Z" fill="#1f9f52"/>
<g clip-path="url(#lf11)"><g filter="url(#soft)">
<path d="M80.0,500.0 L79.2,501.2 L78.5,502.4 L77.7,503.7 L77.0,504.9 L76.2,506.2 L75.5,507.5 L74.9,508.9 L74.5,510.4 L74.0,511.9 L73.7,513.5 L73.5,515.1 L73.4,516.7 L73.5,518.3 L73.8,519.9 L74.3,521.3 L74.8,522.8 L75.4,524.1 L76.0,525.5 L76.7,526.7 L77.4,527.8 L78.2,528.9 L79.0,530.0 L79.0,530.0 L79.1,528.6 L79.3,527.3 L79.4,525.9 L79.6,524.6 L79.7,523.2 L79.8,521.8 L79.9,520.5 L79.9,519.1 L80.0,517.8 L80.0,516.4 L80.1,515.0 L80.1,513.7 L80.1,512.3 L80.1,510.9 L80.1,509.6 L80.1,508.2 L80.1,506.8 L80.0,505.5 L80.0,504.1 L80.0,502.7 L80.0,501.4 L80.0,500.0Z" fill="#27b546"/>
<path d="M80.0,500.0 L78.1,501.0 L76.1,502.0 L74.2,503.0 L72.3,504.1 L70.5,505.2 L68.8,506.5 L67.3,507.9 L66.0,509.6 L65.0,511.4 L64.2,513.2 L63.7,515.2 L63.4,517.2 L63.7,519.1 L64.6,521.0 L65.8,522.6 L67.3,524.1 L68.9,525.5 L70.7,526.8 L72.6,527.9 L74.7,528.7 L76.8,529.3 L79.0,530.0 L79.0,530.0 L78.2,528.9 L77.4,527.8 L76.7,526.7 L76.0,525.5 L75.4,524.1 L74.8,522.8 L74.3,521.3 L73.8,519.9 L73.5,518.3 L73.4,516.7 L73.5,515.1 L73.7,513.5 L74.0,511.9 L74.5,510.4 L74.9,508.9 L75.5,507.5 L76.2,506.2 L77.0,504.9 L77.7,503.7 L78.5,502.4 L79.2,501.2 L80.0,500.0Z" fill="#11917c"/>
<path d="M80.0,500.0 L80.9,501.2 L81.8,502.4 L82.7,503.6 L83.6,504.8 L84.5,506.1 L85.3,507.4 L86.1,508.8 L86.7,510.4 L87.1,512.0 L87.5,513.7 L87.6,515.4 L87.5,517.1 L87.1,518.8 L86.5,520.3 L85.8,521.7 L84.9,523.1 L84.1,524.4 L83.1,525.7 L82.1,526.8 L81.1,527.9 L80.0,529.0 L79.0,530.0 L79.0,530.0 L79.1,528.6 L79.3,527.3 L79.4,525.9 L79.6,524.6 L79.7,523.2 L79.8,521.8 L79.9,520.5 L79.9,519.1 L80.0,517.8 L80.0,516.4 L80.1,515.0 L80.1,513.7 L80.1,512.3 L80.1,510.9 L80.1,509.6 L80.1,508.2 L80.1,506.8 L80.0,505.5 L80.0,504.1 L80.0,502.7 L80.0,501.4 L80.0,500.0Z" fill="#11917c"/>
<path d="M80.0,500.0 L82.2,501.0 L84.5,501.9 L86.8,502.9 L89.0,503.9 L91.2,505.0 L93.2,506.3 L95.1,507.8 L96.6,509.6 L97.8,511.5 L98.5,513.7 L98.9,515.9 L98.8,518.2 L97.8,520.2 L96.4,522.0 L94.6,523.6 L92.7,525.0 L90.6,526.3 L88.5,527.4 L86.2,528.2 L83.8,528.9 L81.4,529.4 L79.0,530.0 L79.0,530.0 L80.0,529.0 L81.1,527.9 L82.1,526.8 L83.1,525.7 L84.1,524.4 L84.9,523.1 L85.8,521.7 L86.5,520.3 L87.1,518.8 L87.5,517.1 L87.6,515.4 L87.5,513.7 L87.1,512.0 L86.7,510.4 L86.1,508.8 L85.3,507.4 L84.5,506.1 L83.6,504.8 L82.7,503.6 L81.8,502.4 L80.9,501.2 L80.0,500.0Z" fill="#1f9f52"/>
</g>
<path d="M80.0,500.0 L80.0,501.4 L80.0,502.7 L80.0,504.1 L80.0,505.5 L80.1,506.8 L80.1,508.2 L80.1,509.6 L80.1,510.9 L80.1,512.3 L80.1,513.7 L80.1,515.0 L80.0,516.4 L80.0,517.8 L79.9,519.1 L79.9,520.5 L79.8,521.8 L79.7,523.2 L79.6,524.6 L79.4,525.9 L79.3,527.3 L79.1,528.6 L79.0,530.0" fill="none" stroke="#137a5c" stroke-width="1.6" stroke-linecap="round"/>
</g>
<clipPath id="lf12"><path d="M50.0,505.0 L50.9,509.1 L51.9,513.1 L53.2,517.0 L54.9,520.8 L56.8,524.5 L58.8,528.1 L60.8,531.8 L62.7,535.4 L64.6,539.1 L66.3,542.9 L67.9,546.7 L69.5,550.6 L71.0,554.4 L72.6,558.3 L74.1,562.1 L75.6,566.0 L77.0,569.9 L78.3,573.8 L79.5,577.8 L80.4,581.9 L81.2,585.9 L82.0,590.0 L102.0,590.0 L100.0,585.9 L98.0,581.9 L95.9,577.8 L93.8,573.8 L91.7,569.8 L89.5,565.8 L87.3,561.9 L85.0,557.9 L82.8,554.0 L80.6,550.0 L78.3,546.1 L76.0,542.2 L73.6,538.3 L71.0,534.6 L68.4,530.9 L65.7,527.2 L63.0,523.6 L60.3,519.9 L57.7,516.2 L55.1,512.5 L52.5,508.8 L50.0,505.0Z"/></clipPath>
<path d="M50.0,505.0 L50.9,509.1 L51.9,513.1 L53.2,517.0 L54.9,520.8 L56.8,524.5 L58.8,528.1 L60.8,531.8 L62.7,535.4 L64.6,539.1 L66.3,542.9 L67.9,546.7 L69.5,550.6 L71.0,554.4 L72.6,558.3 L74.1,562.1 L75.6,566.0 L77.0,569.9 L78.3,573.8 L79.5,577.8 L80.4,581.9 L81.2,585.9 L82.0,590.0 L102.0,590.0 L100.0,585.9 L98.0,581.9 L95.9,577.8 L93.8,573.8 L91.7,569.8 L89.5,565.8 L87.3,561.9 L85.0,557.9 L82.8,554.0 L80.6,550.0 L78.3,546.1 L76.0,542.2 L73.6,538.3 L71.0,534.6 L68.4,530.9 L65.7,527.2 L63.0,523.6 L60.3,519.9 L57.7,516.2 L55.1,512.5 L52.5,508.8 L50.0,505.0Z" fill="#27b546"/>
<g clip-path="url(#lf12)"><g filter="url(#soft)">
<path d="M50.0,505.0 L50.6,509.1 L51.5,513.1 L52.7,517.1 L54.3,520.8 L56.1,524.5 L58.0,528.1 L59.9,531.8 L61.8,535.4 L63.6,539.1 L65.2,542.9 L66.7,546.7 L68.2,550.6 L69.5,554.5 L70.9,558.4 L72.3,562.2 L73.8,566.1 L75.2,569.9 L76.5,573.8 L77.5,577.8 L78.3,581.8 L78.9,585.9 L79.5,590.0 L92.0,590.0 L90.5,586.0 L89.0,581.9 L87.4,577.9 L85.9,573.8 L84.3,569.8 L82.7,565.8 L80.9,561.9 L79.1,558.0 L77.1,554.1 L75.0,550.4 L72.8,546.6 L70.7,542.9 L68.5,539.1 L66.3,535.4 L64.1,531.7 L61.9,528.0 L59.6,524.3 L57.4,520.6 L55.4,516.8 L53.5,512.9 L51.7,509.0 L50.0,505.0Z" fill="#27b546"/>
<path d="M50.0,505.0 L52.8,508.7 L55.5,512.4 L58.2,516.1 L61.0,519.8 L63.8,523.4 L66.7,527.0 L69.5,530.7 L72.2,534.4 L74.8,538.1 L77.3,542.0 L79.7,546.0 L82.0,549.9 L84.3,553.9 L86.5,557.9 L88.8,561.9 L91.2,565.8 L93.5,569.8 L95.8,573.8 L98.1,577.8 L100.2,581.9 L102.4,585.9 L104.5,590.0 L92.0,590.0 L90.5,586.0 L89.0,581.9 L87.4,577.9 L85.9,573.8 L84.3,569.8 L82.7,565.8 L80.9,561.9 L79.1,558.0 L77.1,554.1 L75.0,550.4 L72.8,546.6 L70.7,542.9 L68.5,539.1 L66.3,535.4 L64.1,531.7 L61.9,528.0 L59.6,524.3 L57.4,520.6 L55.4,516.8 L53.5,512.9 L51.7,509.0 L50.0,505.0Z" fill="#11917c"/>
</g>
</g>
<clipPath id="lf13"><path d="M108.0,590.0 L107.1,584.4 L106.1,578.8 L104.3,573.4 L102.3,568.1 L101.1,562.6 L100.2,556.9 L100.1,551.2 L100.7,545.6 L102.0,540.0 L103.8,534.7 L106.2,529.5 L109.1,524.5 L112.4,519.9 L116.1,515.6 L120.1,511.5 L124.1,507.5 L128.3,503.7 L132.6,499.9 L137.1,496.4 L141.9,493.4 L146.9,490.6 L152.0,488.0 L152.0,488.0 L155.6,492.7 L158.9,497.6 L161.0,503.1 L162.3,508.9 L163.2,514.7 L163.7,520.6 L163.5,526.5 L161.9,532.2 L159.8,537.7 L157.4,543.1 L154.3,548.1 L150.5,552.6 L146.3,556.8 L141.8,560.6 L137.0,564.0 L131.9,567.1 L126.7,570.0 L121.5,572.7 L115.9,574.4 L112.2,579.0 L110.0,584.4 L108.0,590.0Z"/></clipPath>
<path d="M108.0,590.0 L107.1,584.4 L106.1,578.8 L104.3,573.4 L102.3,568.1 L101.1,562.6 L100.2,556.9 L100.1,551.2 L100.7,545.6 L102.0,540.0 L103.8,534.7 L106.2,529.5 L109.1,524.5 L112.4,519.9 L116.1,515.6 L120.1,511.5 L124.1,507.5 L128.3,503.7 L132.6,499.9 L137.1,496.4 L141.9,493.4 L146.9,490.6 L152.0,488.0 L152.0,488.0 L155.6,492.7 L158.9,497.6 L161.0,503.1 L162.3,508.9 L163.2,514.7 L163.7,520.6 L163.5,526.5 L161.9,532.2 L159.8,537.7 L157.4,543.1 L154.3,548.1 L150.5,552.6 L146.3,556.8 L141.8,560.6 L137.0,564.0 L131.9,567.1 L126.7,570.0 L121.5,572.7 L115.9,574.4 L112.2,579.0 L110.0,584.4 L108.0,590.0Z" fill="#1f9f52"/>
<g clip-path="url(#lf13)"><g filter="url(#soft)">
<path d="M108.0,590.0 L108.6,584.9 L109.4,579.8 L110.2,574.9 L111.0,570.1 L112.1,565.2 L113.4,560.4 L114.8,555.5 L116.6,550.6 L118.4,545.7 L120.5,540.9 L122.6,536.1 L124.9,531.4 L127.4,526.8 L129.9,522.2 L132.5,517.7 L135.2,513.3 L137.8,508.9 L140.5,504.5 L143.3,500.3 L146.2,496.1 L149.1,492.0 L152.0,488.0 L152.0,488.0 L150.0,492.6 L148.0,497.3 L145.9,501.9 L143.9,506.5 L141.9,511.2 L139.9,515.8 L137.8,520.4 L135.8,525.0 L133.8,529.7 L131.7,534.3 L129.7,538.9 L127.6,543.5 L125.5,548.1 L123.3,552.7 L121.2,557.3 L119.0,561.8 L116.8,566.4 L114.7,571.0 L112.7,575.6 L110.8,580.3 L109.3,585.1 L108.0,590.0Z" fill="#35c63c"/>
<path d="M108.0,590.0 L107.9,584.6 L107.8,579.3 L107.2,574.2 L106.7,569.1 L106.6,563.9 L106.8,558.6 L107.5,553.3 L108.6,548.1 L110.2,542.9 L112.2,537.8 L114.4,532.8 L117.0,528.0 L119.9,523.3 L123.0,518.9 L126.3,514.6 L129.6,510.4 L133.1,506.3 L136.6,502.2 L140.2,498.3 L144.1,494.7 L148.0,491.3 L152.0,488.0 L152.0,488.0 L149.1,492.0 L146.2,496.1 L143.3,500.3 L140.5,504.5 L137.8,508.9 L135.2,513.3 L132.5,517.7 L129.9,522.2 L127.4,526.8 L124.9,531.4 L122.6,536.1 L120.5,540.9 L118.4,545.7 L116.6,550.6 L114.8,555.5 L113.4,560.4 L112.1,565.2 L111.0,570.1 L110.2,574.9 L109.4,579.8 L108.6,584.9 L108.0,590.0Z" fill="#1f9f52"/>
<path d="M108.0,590.0 L106.5,584.2 L104.9,578.4 L102.2,572.9 L99.3,567.4 L97.2,561.6 L95.5,555.7 L94.8,549.7 L95.0,543.8 L96.1,538.0 L97.9,532.4 L100.4,527.1 L103.4,522.1 L107.1,517.5 L111.2,513.2 L115.6,509.3 L120.2,505.4 L125.0,501.8 L129.8,498.3 L134.9,495.1 L140.4,492.4 L146.2,490.1 L152.0,488.0 L152.0,488.0 L148.0,491.3 L144.1,494.7 L140.2,498.3 L136.6,502.2 L133.1,506.3 L129.6,510.4 L126.3,514.6 L123.0,518.9 L119.9,523.3 L117.0,528.0 L114.4,532.8 L112.2,537.8 L110.2,542.9 L108.6,548.1 L107.5,553.3 L106.8,558.6 L106.6,563.9 L106.7,569.1 L107.2,574.2 L107.8,579.3 L107.9,584.6 L108.0,590.0Z" fill="#27b546"/>
<path d="M108.0,590.0 L109.5,584.9 L111.3,579.9 L113.6,575.2 L116.8,571.5 L119.8,567.5 L122.9,563.4 L125.9,559.3 L128.9,555.1 L131.7,550.7 L134.5,546.3 L137.0,541.7 L139.4,536.9 L141.6,532.1 L143.6,527.2 L145.5,522.2 L147.0,517.2 L148.3,512.2 L149.4,507.2 L150.5,502.3 L151.2,497.4 L151.7,492.6 L152.0,488.0 L152.0,488.0 L150.0,492.6 L148.0,497.3 L145.9,501.9 L143.9,506.5 L141.9,511.2 L139.9,515.8 L137.8,520.4 L135.8,525.0 L133.8,529.7 L131.7,534.3 L129.7,538.9 L127.6,543.5 L125.5,548.1 L123.3,552.7 L121.2,557.3 L119.0,561.8 L116.8,566.4 L114.7,571.0 L112.7,575.6 L110.8,580.3 L109.3,585.1 L108.0,590.0Z" fill="#11917c"/>
<path d="M108.0,590.0 L109.8,584.7 L111.7,579.4 L114.7,574.8 L119.1,572.1 L123.3,568.7 L127.4,565.3 L131.4,561.7 L135.3,557.8 L139.0,553.7 L142.5,549.5 L145.6,544.9 L148.4,540.0 L150.7,534.9 L152.8,529.7 L154.5,524.4 L155.4,518.9 L155.7,513.5 L155.9,508.0 L155.7,502.7 L155.0,497.5 L153.6,492.7 L152.0,488.0 L152.0,488.0 L151.7,492.6 L151.2,497.4 L150.5,502.3 L149.4,507.2 L148.3,512.2 L147.0,517.2 L145.5,522.2 L143.6,527.2 L141.6,532.1 L139.4,536.9 L137.0,541.7 L134.5,546.3 L131.7,550.7 L128.9,555.1 L125.9,559.3 L122.9,563.4 L119.8,567.5 L116.8,571.5 L113.6,575.2 L111.3,579.9 L109.5,584.9 L108.0,590.0Z" fill="#35c63c"/>
<path d="M108.0,590.0 L110.2,584.3 L112.6,578.6 L116.7,574.1 L123.2,573.1 L129.2,570.9 L135.1,568.4 L140.9,565.7 L146.4,562.6 L151.5,559.0 L156.2,554.9 L160.4,550.4 L163.8,545.3 L166.4,539.7 L168.4,534.0 L169.9,528.0 L169.7,521.8 L168.5,515.6 L166.9,509.4 L164.7,503.4 L161.6,497.7 L157.0,492.7 L152.0,488.0 L152.0,488.0 L153.6,492.7 L155.0,497.5 L155.7,502.7 L155.9,508.0 L155.7,513.5 L155.4,518.9 L154.5,524.4 L152.8,529.7 L150.7,534.9 L148.4,540.0 L145.6,544.9 L142.5,549.5 L139.0,553.7 L135.3,557.8 L131.4,561.7 L127.4,565.3 L123.3,568.7 L119.1,572.1 L114.7,574.8 L111.7,579.4 L109.8,584.7 L108.0,590.0Z" fill="#1f9f52"/>
</g>
<path d="M108.0,590.0 L109.3,585.1 L110.8,580.3 L112.7,575.6 L114.7,571.0 L116.8,566.4 L119.0,561.8 L121.2,557.3 L123.3,552.7 L125.5,548.1 L127.6,543.5 L129.7,538.9 L131.7,534.3 L133.8,529.7 L135.8,525.0 L137.8,520.4 L139.9,515.8 L141.9,511.2 L143.9,506.5 L145.9,501.9 L148.0,497.3 L150.0,492.6 L152.0,488.0" fill="none" stroke="#137a5c" stroke-width="2.2" stroke-linecap="round"/>
</g>
<clipPath id="potc"><path d="M901.8,518 L1007.7,518 L1005.2,576 L905.3,576Z"/></clipPath>
<g clip-path="url(#potc)"><rect x="900" y="518" width="110" height="58" fill="#2b9b42"/><g filter="url(#soft2)">
<rect x="910" y="510" width="16.4" height="74" fill="#62c244"/>
<rect x="926.4" y="510" width="15.6" height="74" fill="#3fae40"/>
<rect x="942" y="510" width="12.5" height="74" fill="#279650"/>
<rect x="954.5" y="510" width="9.9" height="74" fill="#3eb040"/>
<rect x="964.4" y="510" width="8.4" height="74" fill="#2a9a4a"/>
<rect x="972.8" y="510" width="5.6" height="74" fill="#58bd44"/>
<rect x="978.4" y="510" width="8.6" height="74" fill="#3aa844"/>
<rect x="987" y="510" width="9.7" height="74" fill="#5dc044"/>
<rect x="996.7" y="510" width="11.3" height="74" fill="#2d9d44"/>
</g></g>
</g>
<text class="ttl" filter="url(#fat)" font-size="62.2"><tspan x="299.67" y="107.2" textLength="21.91" lengthAdjust="spacingAndGlyphs">D</tspan><tspan x="323.28" y="107.2" textLength="15.43" lengthAdjust="spacingAndGlyphs">I</tspan><tspan x="341.58" y="107.2" textLength="21.42" lengthAdjust="spacingAndGlyphs">C</tspan><tspan x="365.60" y="107.2" textLength="14.08" lengthAdjust="spacingAndGlyphs">I</tspan><tspan x="382.95" y="107.2" textLength="18.43" lengthAdjust="spacingAndGlyphs">E</tspan><tspan x="403.58" y="107.2" textLength="32.53" lengthAdjust="spacingAndGlyphs">M</tspan><tspan x="438.15" y="107.2" textLength="24.27" lengthAdjust="spacingAndGlyphs">B</tspan><tspan x="465.93" y="107.2" textLength="20.16" lengthAdjust="spacingAndGlyphs">R</tspan><tspan x="489.53" y="107.2" textLength="19.62" lengthAdjust="spacingAndGlyphs">E</tspan><tspan x="514.20" y="108.0" font-size="74" textLength="19.67" lengthAdjust="spacingAndGlyphs">-</tspan><tspan x="538.42" y="107.2" textLength="18.67" lengthAdjust="spacingAndGlyphs">E</tspan><tspan x="560.36" y="107.2" textLength="26.28" lengthAdjust="spacingAndGlyphs">N</tspan><tspan x="588.57" y="107.2" textLength="19.26" lengthAdjust="spacingAndGlyphs">E</tspan><tspan x="611.66" y="107.2" textLength="20.96" lengthAdjust="spacingAndGlyphs">R</tspan><tspan x="636.79" y="107.2" textLength="22.94" lengthAdjust="spacingAndGlyphs">O</tspan></text>
<g transform="translate(771.8,32) rotate(-28.2)" fill="none" stroke="#505050" stroke-width="1.25" stroke-linecap="round" stroke-linejoin="round">
<path d="M0,12 L0,60 A7,7 0 0 0 14,60 L14,7 A6,6 0 0 0 2,7 L2,52 A5,5 0 0 0 12,52 L12,12"/>
</g>
<rect x="-10" y="141" width="503.5" height="377.3" fill="#ffffff"/>
<circle cx="108" cy="161" r="4.7" fill="#86c8a0"/>
<text class="lg" x="117.5" y="164.2" textLength="32.5" lengthAdjust="spacingAndGlyphs">Plastico</text>
<circle cx="174" cy="161" r="4.7" fill="#267f4d"/>
<text class="lg" x="183" y="164.2" textLength="52" lengthAdjust="spacingAndGlyphs">Vasija-pasta</text>
<circle cx="258.5" cy="161" r="4.7" fill="#0d5f3a"/>
<text class="lg" x="267" y="164.2" textLength="13.75" lengthAdjust="spacingAndGlyphs">Pet</text>
<circle cx="305" cy="161" r="4.7" fill="#5de595"/>
<text class="lg" x="314" y="164.2" textLength="35.75" lengthAdjust="spacingAndGlyphs">Soplado</text>
<circle cx="373" cy="161" r="4.7" fill="#cde8c4"/>
<text class="lg" x="382" y="164.2" textLength="32.5" lengthAdjust="spacingAndGlyphs">Archivo</text>
<circle cx="107" cy="186" r="4.7" fill="#cbdca6"/>
<text class="lg" x="116" y="189.2" textLength="28.75" lengthAdjust="spacingAndGlyphs">Carton</text>
<circle cx="169" cy="186" r="4.7" fill="#c3c46e"/>
<text class="lg" x="178" y="189.2" textLength="31" lengthAdjust="spacingAndGlyphs">Cubeta</text>
<circle cx="232" cy="186" r="4.7" fill="#cbaf3f"/>
<text class="lg" x="241" y="189.2" textLength="41.25" lengthAdjust="spacingAndGlyphs">Plegadiza</text>
<circle cx="305" cy="186" r="4.7" fill="#fbac3a"/>
<text class="lg" x="315" y="189.2" textLength="38.75" lengthAdjust="spacingAndGlyphs">Aluminio</text>
<circle cx="377" cy="186" r="4.7" fill="#fdd9c5"/>
<text class="lg" x="386" y="189.2" textLength="30" lengthAdjust="spacingAndGlyphs">Vidrios</text>
<circle cx="212.5" cy="211" r="4.7" fill="#fbc9a5"/>
<text class="lg" x="222" y="214.2" textLength="32.75" lengthAdjust="spacingAndGlyphs">Madera</text>
<circle cx="278" cy="211" r="4.7" fill="#f9b16e"/>
<text class="lg" x="288" y="214.2" textLength="22.75" lengthAdjust="spacingAndGlyphs">Textil</text>
<rect x="79" y="465.40" width="366" height="1" fill="#e9e9e9"/>
<text class="ax" x="71.3" y="469.20" text-anchor="end">0</text>
<rect x="79" y="425.95" width="366" height="1" fill="#e9e9e9"/>
<text class="ax" x="71.3" y="429.75" text-anchor="end">20000</text>
<rect x="79" y="386.50" width="366" height="1" fill="#e9e9e9"/>
<text class="ax" x="71.3" y="390.30" text-anchor="end">40000</text>
<rect x="79" y="347.05" width="366" height="1" fill="#e9e9e9"/>
<text class="ax" x="71.3" y="350.85" text-anchor="end">60000</text>
<rect x="79" y="307.60" width="366" height="1" fill="#e9e9e9"/>
<text class="ax" x="71.3" y="311.40" text-anchor="end">80000</text>
<rect x="79" y="268.15" width="366" height="1" fill="#e9e9e9"/>
<text class="ax" x="71.3" y="271.95" text-anchor="end">100000</text>
<rect x="79" y="228.70" width="366" height="1" fill="#e9e9e9"/>
<text class="ax" x="71.3" y="232.50" text-anchor="end">120000</text>
<path d="M78.75,465.9 L78.75,352.75 Q78.75,351.25 80.25,351.25 L104.55,351.25 Q106.05,351.25 106.05,352.75 L106.05,465.9Z" fill="#86c8a0"/>
<text class="lg" transform="translate(97.60,476.3) rotate(-45)" x="-32.5" textLength="32.5" lengthAdjust="spacingAndGlyphs">Plastico</text>
<path d="M109.55,465.9 L109.55,380.00 Q109.55,378.50 111.05,378.50 L135.35,378.50 Q136.85,378.50 136.85,380.00 L136.85,465.9Z" fill="#267f4d"/>
<text class="lg" transform="translate(128.40,476.3) rotate(-45)" x="-52" textLength="52" lengthAdjust="spacingAndGlyphs">Vasija-pasta</text>
<path d="M140.35,465.9 L140.35,231.50 Q140.35,230.00 141.85,230.00 L166.15,230.00 Q167.65,230.00 167.65,231.50 L167.65,465.9Z" fill="#0d5f3a"/>
<text class="lg" transform="translate(159.20,476.3) rotate(-45)" x="-13.75" textLength="13.75" lengthAdjust="spacingAndGlyphs">Pet</text>
<path d="M171.15,465.9 L171.15,364.00 Q171.15,362.50 172.65,362.50 L196.95,362.50 Q198.45,362.50 198.45,364.00 L198.45,465.9Z" fill="#5de595"/>
<text class="lg" transform="translate(190.00,476.3) rotate(-45)" x="-35.75" textLength="35.75" lengthAdjust="spacingAndGlyphs">Soplado</text>
<path d="M201.95,465.9 L201.95,385.75 Q201.95,384.25 203.45,384.25 L227.75,384.25 Q229.25,384.25 229.25,385.75 L229.25,465.9Z" fill="#cde8c4"/>
<text class="lg" transform="translate(220.80,476.3) rotate(-45)" x="-32.5" textLength="32.5" lengthAdjust="spacingAndGlyphs">Archivo</text>
<path d="M232.75,465.9 L232.75,372.25 Q232.75,370.75 234.25,370.75 L258.55,370.75 Q260.05,370.75 260.05,372.25 L260.05,465.9Z" fill="#cbdca6"/>
<text class="lg" transform="translate(251.60,476.3) rotate(-45)" x="-28.75" textLength="28.75" lengthAdjust="spacingAndGlyphs">Carton</text>
<path d="M263.55,465.9 L263.55,424.50 Q263.55,423.00 265.05,423.00 L289.35,423.00 Q290.85,423.00 290.85,424.50 L290.85,465.9Z" fill="#c3c46e"/>
<text class="lg" transform="translate(282.40,476.3) rotate(-45)" x="-31" textLength="31" lengthAdjust="spacingAndGlyphs">Cubeta</text>
<path d="M294.35,465.9 L294.35,424.50 Q294.35,423.00 295.85,423.00 L320.15,423.00 Q321.65,423.00 321.65,424.50 L321.65,465.9Z" fill="#cbaf3f"/>
<text class="lg" transform="translate(313.20,476.3) rotate(-45)" x="-41.25" textLength="41.25" lengthAdjust="spacingAndGlyphs">Plegadiza</text>
<path d="M325.15,465.9 L325.15,462.25 Q325.15,460.75 326.65,460.75 L350.95,460.75 Q352.45,460.75 352.45,462.25 L352.45,465.9Z" fill="#fbac3a"/>
<text class="lg" transform="translate(344.00,476.3) rotate(-45)" x="-38.75" textLength="38.75" lengthAdjust="spacingAndGlyphs">Aluminio</text>
<path d="M355.95,465.9 L355.95,445.75 Q355.95,444.25 357.45,444.25 L381.75,444.25 Q383.25,444.25 383.25,445.75 L383.25,465.9Z" fill="#fdd9c5"/>
<text class="lg" transform="translate(374.80,476.3) rotate(-45)" x="-30" textLength="30" lengthAdjust="spacingAndGlyphs">Vidrios</text>
<path d="M386.75,465.9 L386.75,465.07 Q386.75,464.25 387.57,464.25 L413.23,464.25 Q414.05,464.25 414.05,465.07 L414.05,465.9Z" fill="#fbc9a5"/>
<text class="lg" transform="translate(405.60,476.3) rotate(-45)" x="-32.75" textLength="32.75" lengthAdjust="spacingAndGlyphs">Madera</text>
<path d="M417.55,465.9 L417.55,463.75 Q417.55,462.25 419.05,462.25 L443.35,462.25 Q444.85,462.25 444.85,463.75 L444.85,465.9Z" fill="#f9b16e"/>
<text class="lg" transform="translate(436.40,476.3) rotate(-45)" x="-22.75" textLength="22.75" lengthAdjust="spacingAndGlyphs">Textil</text>
<rect x="520" y="141" width="514" height="377.3" fill="#ffffff"/>
<circle cx="638.4" cy="161" r="4.7" fill="#86c8a0"/>
<text class="lg" x="647.9" y="164.2" textLength="32.5" lengthAdjust="spacingAndGlyphs">Plastico</text>
<circle cx="704.4" cy="161" r="4.7" fill="#267f4d"/>
<text class="lg" x="713.4" y="164.2" textLength="52" lengthAdjust="spacingAndGlyphs">Vasija-pasta</text>
<circle cx="788.9" cy="161" r="4.7" fill="#0d5f3a"/>
<text class="lg" x="797.4" y="164.2" textLength="13.75" lengthAdjust="spacingAndGlyphs">Pet</text>
<circle cx="835.4" cy="161" r="4.7" fill="#5de595"/>
<text class="lg" x="844.4" y="164.2" textLength="35.75" lengthAdjust="spacingAndGlyphs">Soplado</text>
<circle cx="903.4" cy="161" r="4.7" fill="#cde8c4"/>
<text class="lg" x="912.4" y="164.2" textLength="32.5" lengthAdjust="spacingAndGlyphs">Archivo</text>
<circle cx="637.4" cy="186" r="4.7" fill="#cbdca6"/>
<text class="lg" x="646.4" y="189.2" textLength="28.75" lengthAdjust="spacingAndGlyphs">Carton</text>
<circle cx="699.4" cy="186" r="4.7" fill="#c3c46e"/>
<text class="lg" x="708.4" y="189.2" textLength="31" lengthAdjust="spacingAndGlyphs">Cubeta</text>
<circle cx="762.4" cy="186" r="4.7" fill="#cbaf3f"/>
<text class="lg" x="771.4" y="189.2" textLength="41.25" lengthAdjust="spacingAndGlyphs">Plegadiza</text>
<circle cx="835.4" cy="186" r="4.7" fill="#fbac3a"/>
<text class="lg" x="845.4" y="189.2" textLength="38.75" lengthAdjust="spacingAndGlyphs">Aluminio</text>
<circle cx="907.4" cy="186" r="4.7" fill="#fdd9c5"/>
<text class="lg" x="916.4" y="189.2" textLength="30" lengthAdjust="spacingAndGlyphs">Vidrios</text>
<circle cx="742.9" cy="211" r="4.7" fill="#fbc9a5"/>
<text class="lg" x="752.4" y="214.2" textLength="32.75" lengthAdjust="spacingAndGlyphs">Madera</text>
<circle cx="808.4" cy="211" r="4.7" fill="#f9b16e"/>
<text class="lg" x="818.4" y="214.2" textLength="22.75" lengthAdjust="spacingAndGlyphs">Textil</text>
<rect x="609.4" y="465.40" width="366" height="1" fill="#e9e9e9"/>
<text class="ax" x="601.6999999999999" y="469.20" text-anchor="end">0</text>
<rect x="609.4" y="431.59" width="366" height="1" fill="#e9e9e9"/>
<text class="ax" x="601.6999999999999" y="435.39" text-anchor="end">20000</text>
<rect x="609.4" y="397.77" width="366" height="1" fill="#e9e9e9"/>
<text class="ax" x="601.6999999999999" y="401.57" text-anchor="end">40000</text>
<rect x="609.4" y="363.96" width="366" height="1" fill="#e9e9e9"/>
<text class="ax" x="601.6999999999999" y="367.76" text-anchor="end">60000</text>
<rect x="609.4" y="330.14" width="366" height="1" fill="#e9e9e9"/>
<text class="ax" x="601.6999999999999" y="333.94" text-anchor="end">80000</text>
<rect x="609.4" y="296.33" width="366" height="1" fill="#e9e9e9"/>
<text class="ax" x="601.6999999999999" y="300.13" text-anchor="end">100000</text>
<rect x="609.4" y="262.51" width="366" height="1" fill="#e9e9e9"/>
<text class="ax" x="601.6999999999999" y="266.31" text-anchor="end">120000</text>
<rect x="609.4" y="228.70" width="366" height="1" fill="#e9e9e9"/>
<text class="ax" x="601.6999999999999" y="232.50" text-anchor="end">140000</text>
<path d="M609.15,465.9 L609.15,365.50 Q609.15,364.00 610.65,364.00 L634.95,364.00 Q636.45,364.00 636.45,365.50 L636.45,465.9Z" fill="#86c8a0"/>
<text class="lg" transform="translate(628.00,476.3) rotate(-45)" x="-32.5" textLength="32.5" lengthAdjust="spacingAndGlyphs">Plastico</text>
<path d="M639.95,465.9 L639.95,390.75 Q639.95,389.25 641.45,389.25 L665.75,389.25 Q667.25,389.25 667.25,390.75 L667.25,465.9Z" fill="#267f4d"/>
<text class="lg" transform="translate(658.80,476.3) rotate(-45)" x="-52" textLength="52" lengthAdjust="spacingAndGlyphs">Vasija-pasta</text>
<path d="M670.75,465.9 L670.75,261.50 Q670.75,260.00 672.25,260.00 L696.55,260.00 Q698.05,260.00 698.05,261.50 L698.05,465.9Z" fill="#0d5f3a"/>
<text class="lg" transform="translate(689.60,476.3) rotate(-45)" x="-13.75" textLength="13.75" lengthAdjust="spacingAndGlyphs">Pet</text>
<path d="M701.55,465.9 L701.55,377.00 Q701.55,375.50 703.05,375.50 L727.35,375.50 Q728.85,375.50 728.85,377.00 L728.85,465.9Z" fill="#5de595"/>
<text class="lg" transform="translate(720.40,476.3) rotate(-45)" x="-35.75" textLength="35.75" lengthAdjust="spacingAndGlyphs">Soplado</text>
<path d="M732.35,465.9 L732.35,396.00 Q732.35,394.50 733.85,394.50 L758.15,394.50 Q759.65,394.50 759.65,396.00 L759.65,465.9Z" fill="#cde8c4"/>
<text class="lg" transform="translate(751.20,476.3) rotate(-45)" x="-32.5" textLength="32.5" lengthAdjust="spacingAndGlyphs">Archivo</text>
<path d="M763.15,465.9 L763.15,392.75 Q763.15,391.25 764.65,391.25 L788.95,391.25 Q790.45,391.25 790.45,392.75 L790.45,465.9Z" fill="#cbdca6"/>
<text class="lg" transform="translate(782.00,476.3) rotate(-45)" x="-28.75" textLength="28.75" lengthAdjust="spacingAndGlyphs">Carton</text>
<path d="M793.95,465.9 L793.95,429.00 Q793.95,427.50 795.45,427.50 L819.75,427.50 Q821.25,427.50 821.25,429.00 L821.25,465.9Z" fill="#c3c46e"/>
<text class="lg" transform="translate(812.80,476.3) rotate(-45)" x="-31" textLength="31" lengthAdjust="spacingAndGlyphs">Cubeta</text>
<path d="M824.75,465.9 L824.75,429.00 Q824.75,427.50 826.25,427.50 L850.55,427.50 Q852.05,427.50 852.05,429.00 L852.05,465.9Z" fill="#cbaf3f"/>
<text class="lg" transform="translate(843.60,476.3) rotate(-45)" x="-41.25" textLength="41.25" lengthAdjust="spacingAndGlyphs">Plegadiza</text>
<path d="M855.55,465.9 L855.55,461.25 Q855.55,459.75 857.05,459.75 L881.35,459.75 Q882.85,459.75 882.85,461.25 L882.85,465.9Z" fill="#fbac3a"/>
<text class="lg" transform="translate(874.40,476.3) rotate(-45)" x="-38.75" textLength="38.75" lengthAdjust="spacingAndGlyphs">Aluminio</text>
<path d="M886.35,465.9 L886.35,447.00 Q886.35,445.50 887.85,445.50 L912.15,445.50 Q913.65,445.50 913.65,447.00 L913.65,465.9Z" fill="#fdd9c5"/>
<text class="lg" transform="translate(905.20,476.3) rotate(-45)" x="-30" textLength="30" lengthAdjust="spacingAndGlyphs">Vidrios</text>
<path d="M917.15,465.9 L917.15,464.82 Q917.15,463.75 918.22,463.75 L943.38,463.75 Q944.45,463.75 944.45,464.82 L944.45,465.9Z" fill="#fbc9a5"/>
<text class="lg" transform="translate(936.00,476.3) rotate(-45)" x="-32.75" textLength="32.75" lengthAdjust="spacingAndGlyphs">Madera</text>
<path d="M947.95,465.9 L947.95,463.50 Q947.95,462.00 949.45,462.00 L973.75,462.00 Q975.25,462.00 975.25,463.50 L975.25,465.9Z" fill="#f9b16e"/>
<text class="lg" transform="translate(966.80,476.3) rotate(-45)" x="-22.75" textLength="22.75" lengthAdjust="spacingAndGlyphs">Textil</text>
</svg></body></html>
